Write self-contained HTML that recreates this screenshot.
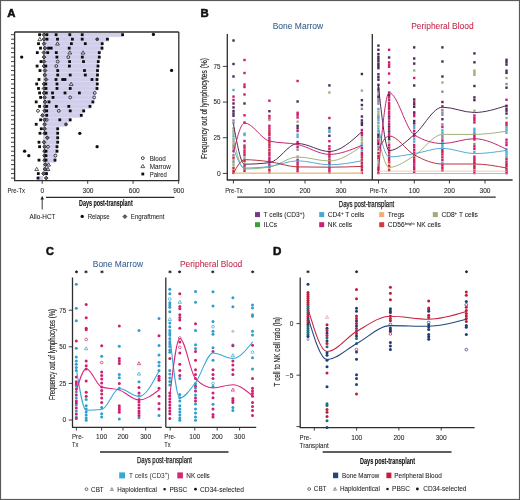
<!DOCTYPE html>
<html><head><meta charset="utf-8"><style>
html,body{margin:0;padding:0;background:#fff;}
#fig{position:relative;width:520px;height:500px;overflow:hidden;background:#fff;}
svg{position:absolute;left:0;top:0;will-change:transform;}
svg text{font-family:"Liberation Sans",sans-serif;}
</style></head><body><div id="fig">
<svg width="520" height="500" viewBox="0 0 520 500">
<rect x="0" y="0" width="520" height="500" fill="#fff"/>
<text x="7.2" y="17" font-size="11.2" font-weight="bold" fill="#111" text-anchor="start" textLength="8.2" lengthAdjust="spacingAndGlyphs" stroke="#111" stroke-width="0.55">A</text>
<rect x="43" y="32.46" width="80" height="4.48" fill="#d1ceec"/>
<rect x="43" y="36.6" width="80" height="0.6" fill="#e0def3"/>
<rect x="43" y="36.94" width="65.5" height="4.48" fill="#d1ceec"/>
<rect x="43" y="41.08" width="65.5" height="0.6" fill="#e0def3"/>
<rect x="43" y="41.42" width="60" height="4.48" fill="#d1ceec"/>
<rect x="43" y="45.56" width="60" height="0.6" fill="#e0def3"/>
<rect x="43" y="45.9" width="60" height="4.48" fill="#d1ceec"/>
<rect x="43" y="50.04" width="60" height="0.6" fill="#e0def3"/>
<rect x="43" y="50.38" width="57" height="4.48" fill="#d1ceec"/>
<rect x="43" y="54.52" width="57" height="0.6" fill="#e0def3"/>
<rect x="43" y="54.86" width="57" height="4.48" fill="#d1ceec"/>
<rect x="43" y="59" width="57" height="0.6" fill="#e0def3"/>
<rect x="43" y="59.34" width="56" height="4.48" fill="#d1ceec"/>
<rect x="43" y="63.48" width="56" height="0.6" fill="#e0def3"/>
<rect x="43" y="63.82" width="56" height="4.48" fill="#d1ceec"/>
<rect x="43" y="67.96" width="56" height="0.6" fill="#e0def3"/>
<rect x="43" y="68.3" width="55.5" height="4.48" fill="#d1ceec"/>
<rect x="43" y="72.44" width="55.5" height="0.6" fill="#e0def3"/>
<rect x="43" y="72.78" width="55.5" height="4.48" fill="#d1ceec"/>
<rect x="43" y="76.92" width="55.5" height="0.6" fill="#e0def3"/>
<rect x="43" y="77.26" width="55" height="4.48" fill="#d1ceec"/>
<rect x="43" y="81.4" width="55" height="0.6" fill="#e0def3"/>
<rect x="43" y="81.74" width="55" height="4.48" fill="#d1ceec"/>
<rect x="43" y="85.88" width="55" height="0.6" fill="#e0def3"/>
<rect x="43" y="86.22" width="55" height="4.48" fill="#d1ceec"/>
<rect x="43" y="90.36" width="55" height="0.6" fill="#e0def3"/>
<rect x="43" y="90.7" width="52.5" height="4.48" fill="#d1ceec"/>
<rect x="43" y="94.84" width="52.5" height="0.6" fill="#e0def3"/>
<rect x="43" y="95.18" width="52" height="4.48" fill="#d1ceec"/>
<rect x="43" y="99.32" width="52" height="0.6" fill="#e0def3"/>
<rect x="43" y="99.66" width="50.5" height="4.48" fill="#d1ceec"/>
<rect x="43" y="103.8" width="50.5" height="0.6" fill="#e0def3"/>
<rect x="43" y="104.14" width="48" height="4.48" fill="#d1ceec"/>
<rect x="43" y="108.28" width="48" height="0.6" fill="#e0def3"/>
<rect x="43" y="108.62" width="41.5" height="4.48" fill="#d1ceec"/>
<rect x="43" y="112.76" width="41.5" height="0.6" fill="#e0def3"/>
<rect x="43" y="113.1" width="38.5" height="4.48" fill="#d1ceec"/>
<rect x="43" y="117.24" width="38.5" height="0.6" fill="#e0def3"/>
<rect x="43" y="117.58" width="28" height="4.48" fill="#d1ceec"/>
<rect x="43" y="121.72" width="28" height="0.6" fill="#e0def3"/>
<rect x="43" y="122.06" width="24" height="4.48" fill="#d1ceec"/>
<rect x="43" y="126.2" width="24" height="0.6" fill="#e0def3"/>
<rect x="43" y="126.54" width="15.5" height="4.48" fill="#d1ceec"/>
<rect x="43" y="130.68" width="15.5" height="0.6" fill="#e0def3"/>
<rect x="43" y="131.02" width="15.5" height="4.48" fill="#d1ceec"/>
<rect x="43" y="135.16" width="15.5" height="0.6" fill="#e0def3"/>
<rect x="43" y="135.5" width="15.5" height="4.48" fill="#d1ceec"/>
<rect x="43" y="139.64" width="15.5" height="0.6" fill="#e0def3"/>
<rect x="43" y="139.98" width="15.5" height="4.48" fill="#d1ceec"/>
<rect x="43" y="144.12" width="15.5" height="0.6" fill="#e0def3"/>
<rect x="43" y="144.46" width="15" height="4.48" fill="#d1ceec"/>
<rect x="43" y="148.6" width="15" height="0.6" fill="#e0def3"/>
<rect x="43" y="148.94" width="14.5" height="4.48" fill="#d1ceec"/>
<rect x="43" y="153.08" width="14.5" height="0.6" fill="#e0def3"/>
<rect x="43" y="153.42" width="13.5" height="4.48" fill="#d1ceec"/>
<rect x="43" y="157.56" width="13.5" height="0.6" fill="#e0def3"/>
<rect x="43" y="157.9" width="13" height="4.48" fill="#d1ceec"/>
<rect x="43" y="162.04" width="13" height="0.6" fill="#e0def3"/>
<rect x="43" y="162.38" width="6.5" height="4.48" fill="#d1ceec"/>
<rect x="43" y="166.52" width="6.5" height="0.6" fill="#e0def3"/>
<rect x="43" y="166.86" width="6" height="4.48" fill="#d1ceec"/>
<rect x="43" y="171" width="6" height="0.6" fill="#e0def3"/>
<rect x="43" y="171.34" width="4.5" height="4.48" fill="#d1ceec"/>
<rect x="43" y="175.48" width="4.5" height="0.6" fill="#e0def3"/>
<rect x="43" y="175.82" width="0" height="4.48" fill="#d1ceec"/>
<rect x="43" y="179.96" width="0" height="0.6" fill="#e0def3"/>
<rect x="38" y="176.06" width="5" height="4" fill="#d1ceec"/>
<line x1="14.6" y1="32" x2="178.8" y2="32" stroke="#2e2e2e" stroke-width="1.3"/>
<line x1="178.8" y1="32" x2="178.8" y2="180.6" stroke="#2e2e2e" stroke-width="1.3"/>
<line x1="14.6" y1="32" x2="14.6" y2="180.6" stroke="#2e2e2e" stroke-width="1.3"/>
<line x1="14.1" y1="180.6" x2="179.3" y2="180.6" stroke="#2e2e2e" stroke-width="1.3"/>
<line x1="11" y1="34.7" x2="14.6" y2="34.7" stroke="#2e2e2e" stroke-width="0.9"/>
<line x1="11" y1="39.18" x2="14.6" y2="39.18" stroke="#2e2e2e" stroke-width="0.9"/>
<line x1="11" y1="43.66" x2="14.6" y2="43.66" stroke="#2e2e2e" stroke-width="0.9"/>
<line x1="11" y1="48.14" x2="14.6" y2="48.14" stroke="#2e2e2e" stroke-width="0.9"/>
<line x1="11" y1="52.62" x2="14.6" y2="52.62" stroke="#2e2e2e" stroke-width="0.9"/>
<line x1="11" y1="57.1" x2="14.6" y2="57.1" stroke="#2e2e2e" stroke-width="0.9"/>
<line x1="11" y1="61.58" x2="14.6" y2="61.58" stroke="#2e2e2e" stroke-width="0.9"/>
<line x1="11" y1="66.06" x2="14.6" y2="66.06" stroke="#2e2e2e" stroke-width="0.9"/>
<line x1="11" y1="70.54" x2="14.6" y2="70.54" stroke="#2e2e2e" stroke-width="0.9"/>
<line x1="11" y1="75.02" x2="14.6" y2="75.02" stroke="#2e2e2e" stroke-width="0.9"/>
<line x1="11" y1="79.5" x2="14.6" y2="79.5" stroke="#2e2e2e" stroke-width="0.9"/>
<line x1="11" y1="83.98" x2="14.6" y2="83.98" stroke="#2e2e2e" stroke-width="0.9"/>
<line x1="11" y1="88.46" x2="14.6" y2="88.46" stroke="#2e2e2e" stroke-width="0.9"/>
<line x1="11" y1="92.94" x2="14.6" y2="92.94" stroke="#2e2e2e" stroke-width="0.9"/>
<line x1="11" y1="97.42" x2="14.6" y2="97.42" stroke="#2e2e2e" stroke-width="0.9"/>
<line x1="11" y1="101.9" x2="14.6" y2="101.9" stroke="#2e2e2e" stroke-width="0.9"/>
<line x1="11" y1="106.38" x2="14.6" y2="106.38" stroke="#2e2e2e" stroke-width="0.9"/>
<line x1="11" y1="110.86" x2="14.6" y2="110.86" stroke="#2e2e2e" stroke-width="0.9"/>
<line x1="11" y1="115.34" x2="14.6" y2="115.34" stroke="#2e2e2e" stroke-width="0.9"/>
<line x1="11" y1="119.82" x2="14.6" y2="119.82" stroke="#2e2e2e" stroke-width="0.9"/>
<line x1="11" y1="124.3" x2="14.6" y2="124.3" stroke="#2e2e2e" stroke-width="0.9"/>
<line x1="11" y1="128.78" x2="14.6" y2="128.78" stroke="#2e2e2e" stroke-width="0.9"/>
<line x1="11" y1="133.26" x2="14.6" y2="133.26" stroke="#2e2e2e" stroke-width="0.9"/>
<line x1="11" y1="137.74" x2="14.6" y2="137.74" stroke="#2e2e2e" stroke-width="0.9"/>
<line x1="11" y1="142.22" x2="14.6" y2="142.22" stroke="#2e2e2e" stroke-width="0.9"/>
<line x1="11" y1="146.7" x2="14.6" y2="146.7" stroke="#2e2e2e" stroke-width="0.9"/>
<line x1="11" y1="151.18" x2="14.6" y2="151.18" stroke="#2e2e2e" stroke-width="0.9"/>
<line x1="11" y1="155.66" x2="14.6" y2="155.66" stroke="#2e2e2e" stroke-width="0.9"/>
<line x1="11" y1="160.14" x2="14.6" y2="160.14" stroke="#2e2e2e" stroke-width="0.9"/>
<line x1="11" y1="164.62" x2="14.6" y2="164.62" stroke="#2e2e2e" stroke-width="0.9"/>
<line x1="11" y1="169.1" x2="14.6" y2="169.1" stroke="#2e2e2e" stroke-width="0.9"/>
<line x1="11" y1="173.58" x2="14.6" y2="173.58" stroke="#2e2e2e" stroke-width="0.9"/>
<line x1="11" y1="178.06" x2="14.6" y2="178.06" stroke="#2e2e2e" stroke-width="0.9"/>
<line x1="42.2" y1="180.6" x2="42.2" y2="183.8" stroke="#2e2e2e" stroke-width="0.9"/>
<line x1="87.7" y1="180.6" x2="87.7" y2="183.8" stroke="#2e2e2e" stroke-width="0.9"/>
<line x1="133.1" y1="180.6" x2="133.1" y2="183.8" stroke="#2e2e2e" stroke-width="0.9"/>
<line x1="178.6" y1="180.6" x2="178.6" y2="183.8" stroke="#2e2e2e" stroke-width="0.9"/>
<rect x="38.2" y="33.3" width="2.8" height="2.8" fill="#0e0e0e"/>
<polygon points="43.9,32.8 45.8,34.7 43.9,36.6 42,34.7" fill="#666" stroke="#1a1a1a" stroke-width="0.8"/>
<rect x="45.5" y="33.3" width="2.8" height="2.8" fill="#0e0e0e"/>
<rect x="54.7" y="33.3" width="2.8" height="2.8" fill="#0e0e0e"/>
<rect x="68.4" y="33.3" width="2.8" height="2.8" fill="#0e0e0e"/>
<rect x="80.8" y="33.3" width="2.8" height="2.8" fill="#0e0e0e"/>
<rect x="121.2" y="33.3" width="2.8" height="2.8" fill="#0e0e0e"/>
<polygon points="39.8,37.38 41.75,40.63 37.85,40.63" fill="none" stroke="#1a1a1a" stroke-width="0.7"/>
<polygon points="44,37.28 45.9,39.18 44,41.08 42.1,39.18" fill="#666" stroke="#1a1a1a" stroke-width="0.8"/>
<rect x="45.6" y="37.78" width="2.8" height="2.8" fill="#0e0e0e"/>
<rect x="56.1" y="37.78" width="2.8" height="2.8" fill="#0e0e0e"/>
<rect x="71" y="37.78" width="2.8" height="2.8" fill="#0e0e0e"/>
<rect x="80.8" y="37.78" width="2.8" height="2.8" fill="#0e0e0e"/>
<circle cx="97.2" cy="39.18" r="1.5" fill="#444" stroke="#222" stroke-width="0.5"/>
<rect x="106" y="37.78" width="2.8" height="2.8" fill="#0e0e0e"/>
<rect x="37.1" y="42.26" width="2.8" height="2.8" fill="#0e0e0e"/>
<polygon points="44,41.76 45.9,43.66 44,45.56 42.1,43.66" fill="#666" stroke="#1a1a1a" stroke-width="0.8"/>
<polygon points="57.5,41.86 59.45,45.11 55.55,45.11" fill="none" stroke="#1a1a1a" stroke-width="0.7"/>
<rect x="70" y="42.26" width="2.8" height="2.8" fill="#0e0e0e"/>
<rect x="83.9" y="42.26" width="2.8" height="2.8" fill="#0e0e0e"/>
<rect x="100.8" y="42.26" width="2.8" height="2.8" fill="#0e0e0e"/>
<rect x="39.1" y="46.74" width="2.8" height="2.8" fill="#0e0e0e"/>
<polygon points="45,46.24 46.9,48.14 45,50.04 43.1,48.14" fill="#666" stroke="#1a1a1a" stroke-width="0.8"/>
<rect x="47.2" y="46.74" width="2.8" height="2.8" fill="#0e0e0e"/>
<rect x="49.8" y="46.74" width="2.8" height="2.8" fill="#0e0e0e"/>
<rect x="67.8" y="46.74" width="2.8" height="2.8" fill="#0e0e0e"/>
<rect x="100.6" y="46.74" width="2.8" height="2.8" fill="#0e0e0e"/>
<rect x="35.9" y="51.22" width="2.8" height="2.8" fill="#0e0e0e"/>
<polygon points="43.9,50.72 45.8,52.62 43.9,54.52 42,52.62" fill="#666" stroke="#1a1a1a" stroke-width="0.8"/>
<rect x="46.3" y="51.22" width="2.8" height="2.8" fill="#0e0e0e"/>
<rect x="54.9" y="51.22" width="2.8" height="2.8" fill="#0e0e0e"/>
<polygon points="69.8,50.82 71.75,54.07 67.85,54.07" fill="none" stroke="#1a1a1a" stroke-width="0.7"/>
<polygon points="83,50.82 84.95,54.07 81.05,54.07" fill="none" stroke="#1a1a1a" stroke-width="0.7"/>
<rect x="97.9" y="51.22" width="2.8" height="2.8" fill="#0e0e0e"/>
<circle cx="21.7" cy="57.1" r="1.65" fill="#0e0e0e" stroke="none" stroke-width="0.6"/>
<polygon points="44,55.2 45.9,57.1 44,59 42.1,57.1" fill="#666" stroke="#1a1a1a" stroke-width="0.8"/>
<rect x="55.5" y="55.7" width="2.8" height="2.8" fill="#0e0e0e"/>
<circle cx="68.3" cy="57.1" r="1.45" fill="none" stroke="#1a1a1a" stroke-width="0.8"/>
<rect x="80.9" y="55.7" width="2.8" height="2.8" fill="#0e0e0e"/>
<rect x="97.9" y="55.7" width="2.8" height="2.8" fill="#0e0e0e"/>
<rect x="39.6" y="60.18" width="2.8" height="2.8" fill="#0e0e0e"/>
<polygon points="44,59.68 45.9,61.58 44,63.48 42.1,61.58" fill="#666" stroke="#1a1a1a" stroke-width="0.8"/>
<circle cx="57.7" cy="61.58" r="1.45" fill="none" stroke="#1a1a1a" stroke-width="0.8"/>
<rect x="68.2" y="60.18" width="2.8" height="2.8" fill="#0e0e0e"/>
<rect x="82.1" y="60.18" width="2.8" height="2.8" fill="#0e0e0e"/>
<rect x="96.9" y="60.18" width="2.8" height="2.8" fill="#0e0e0e"/>
<rect x="35.7" y="64.66" width="2.8" height="2.8" fill="#0e0e0e"/>
<polygon points="44,64.16 45.9,66.06 44,67.96 42.1,66.06" fill="#666" stroke="#1a1a1a" stroke-width="0.8"/>
<rect x="44.4" y="64.66" width="2.8" height="2.8" fill="#0e0e0e"/>
<circle cx="56.3" cy="66.06" r="1.45" fill="none" stroke="#1a1a1a" stroke-width="0.8"/>
<rect x="68" y="64.66" width="2.8" height="2.8" fill="#0e0e0e"/>
<rect x="96.6" y="64.66" width="2.8" height="2.8" fill="#0e0e0e"/>
<rect x="38.6" y="69.14" width="2.8" height="2.8" fill="#0e0e0e"/>
<polygon points="45,68.64 46.9,70.54 45,72.44 43.1,70.54" fill="#666" stroke="#1a1a1a" stroke-width="0.8"/>
<rect x="56.3" y="69.14" width="2.8" height="2.8" fill="#0e0e0e"/>
<rect x="83.1" y="69.14" width="2.8" height="2.8" fill="#0e0e0e"/>
<rect x="96.1" y="69.14" width="2.8" height="2.8" fill="#0e0e0e"/>
<polygon points="44.8,73.12 46.7,75.02 44.8,76.92 42.9,75.02" fill="#666" stroke="#1a1a1a" stroke-width="0.8"/>
<rect x="56.3" y="73.62" width="2.8" height="2.8" fill="#0e0e0e"/>
<rect x="68.8" y="73.62" width="2.8" height="2.8" fill="#0e0e0e"/>
<rect x="83.9" y="73.62" width="2.8" height="2.8" fill="#0e0e0e"/>
<rect x="96.1" y="73.62" width="2.8" height="2.8" fill="#0e0e0e"/>
<rect x="37.6" y="78.1" width="2.8" height="2.8" fill="#0e0e0e"/>
<polygon points="46,77.6 47.9,79.5 46,81.4 44.1,79.5" fill="#666" stroke="#1a1a1a" stroke-width="0.8"/>
<rect x="54.6" y="78.1" width="2.8" height="2.8" fill="#0e0e0e"/>
<rect x="61.3" y="78.1" width="2.8" height="2.8" fill="#0e0e0e"/>
<rect x="63.6" y="78.1" width="2.8" height="2.8" fill="#0e0e0e"/>
<rect x="90.6" y="78.1" width="2.8" height="2.8" fill="#0e0e0e"/>
<rect x="95.6" y="78.1" width="2.8" height="2.8" fill="#0e0e0e"/>
<rect x="35.3" y="82.58" width="2.8" height="2.8" fill="#0e0e0e"/>
<polygon points="44,82.08 45.9,83.98 44,85.88 42.1,83.98" fill="#666" stroke="#1a1a1a" stroke-width="0.8"/>
<rect x="44.4" y="82.58" width="2.8" height="2.8" fill="#0e0e0e"/>
<rect x="55.6" y="82.58" width="2.8" height="2.8" fill="#0e0e0e"/>
<polygon points="71.2,82.18 73.15,85.43 69.25,85.43" fill="none" stroke="#1a1a1a" stroke-width="0.7"/>
<rect x="95.9" y="82.58" width="2.8" height="2.8" fill="#0e0e0e"/>
<rect x="37.1" y="87.06" width="2.8" height="2.8" fill="#0e0e0e"/>
<polygon points="44,86.56 45.9,88.46 44,90.36 42.1,88.46" fill="#666" stroke="#1a1a1a" stroke-width="0.8"/>
<rect x="44.6" y="87.06" width="2.8" height="2.8" fill="#0e0e0e"/>
<rect x="55.6" y="87.06" width="2.8" height="2.8" fill="#0e0e0e"/>
<rect x="68.8" y="87.06" width="2.8" height="2.8" fill="#0e0e0e"/>
<rect x="95.6" y="87.06" width="2.8" height="2.8" fill="#0e0e0e"/>
<rect x="38.2" y="91.54" width="2.8" height="2.8" fill="#0e0e0e"/>
<polygon points="44,91.04 45.9,92.94 44,94.84 42.1,92.94" fill="#666" stroke="#1a1a1a" stroke-width="0.8"/>
<rect x="44.9" y="91.54" width="2.8" height="2.8" fill="#0e0e0e"/>
<rect x="51.1" y="91.54" width="2.8" height="2.8" fill="#0e0e0e"/>
<rect x="63.6" y="91.54" width="2.8" height="2.8" fill="#0e0e0e"/>
<rect x="78" y="91.54" width="2.8" height="2.8" fill="#0e0e0e"/>
<circle cx="94.8" cy="92.94" r="1.45" fill="none" stroke="#1a1a1a" stroke-width="0.8"/>
<rect x="39.2" y="96.02" width="2.8" height="2.8" fill="#0e0e0e"/>
<polygon points="44.6,95.52 46.5,97.42 44.6,99.32 42.7,97.42" fill="#666" stroke="#1a1a1a" stroke-width="0.8"/>
<rect x="51.6" y="96.02" width="2.8" height="2.8" fill="#0e0e0e"/>
<circle cx="70.2" cy="97.42" r="1.45" fill="none" stroke="#1a1a1a" stroke-width="0.8"/>
<circle cx="94.2" cy="97.42" r="1.45" fill="none" stroke="#1a1a1a" stroke-width="0.8"/>
<rect x="34.8" y="100.5" width="2.8" height="2.8" fill="#0e0e0e"/>
<polygon points="45,100 46.9,101.9 45,103.8 43.1,101.9" fill="#666" stroke="#1a1a1a" stroke-width="0.8"/>
<rect x="47.6" y="100.5" width="2.8" height="2.8" fill="#0e0e0e"/>
<rect x="91.5" y="100.5" width="2.8" height="2.8" fill="#0e0e0e"/>
<rect x="38.2" y="104.98" width="2.8" height="2.8" fill="#0e0e0e"/>
<polygon points="45,104.48 46.9,106.38 45,108.28 43.1,106.38" fill="#666" stroke="#1a1a1a" stroke-width="0.8"/>
<rect x="45.3" y="104.98" width="2.8" height="2.8" fill="#0e0e0e"/>
<rect x="54.9" y="104.98" width="2.8" height="2.8" fill="#0e0e0e"/>
<rect x="67.4" y="104.98" width="2.8" height="2.8" fill="#0e0e0e"/>
<rect x="88.6" y="104.98" width="2.8" height="2.8" fill="#0e0e0e"/>
<circle cx="38" cy="110.86" r="1.45" fill="none" stroke="#1a1a1a" stroke-width="0.8"/>
<polygon points="44.6,108.96 46.5,110.86 44.6,112.76 42.7,110.86" fill="#666" stroke="#1a1a1a" stroke-width="0.8"/>
<rect x="45.3" y="109.46" width="2.8" height="2.8" fill="#0e0e0e"/>
<circle cx="58.8" cy="110.86" r="1.45" fill="none" stroke="#1a1a1a" stroke-width="0.8"/>
<rect x="68.8" y="109.46" width="2.8" height="2.8" fill="#0e0e0e"/>
<rect x="82.3" y="109.46" width="2.8" height="2.8" fill="#0e0e0e"/>
<polygon points="42.5,113.44 44.4,115.34 42.5,117.24 40.6,115.34" fill="#666" stroke="#1a1a1a" stroke-width="0.8"/>
<rect x="45.3" y="113.94" width="2.8" height="2.8" fill="#0e0e0e"/>
<rect x="79.9" y="113.94" width="2.8" height="2.8" fill="#0e0e0e"/>
<rect x="39.2" y="118.42" width="2.8" height="2.8" fill="#0e0e0e"/>
<polygon points="44.6,117.92 46.5,119.82 44.6,121.72 42.7,119.82" fill="#666" stroke="#1a1a1a" stroke-width="0.8"/>
<circle cx="46.7" cy="119.82" r="1.45" fill="none" stroke="#1a1a1a" stroke-width="0.8"/>
<rect x="58.4" y="118.42" width="2.8" height="2.8" fill="#0e0e0e"/>
<rect x="68.8" y="118.42" width="2.8" height="2.8" fill="#0e0e0e"/>
<rect x="34.8" y="122.9" width="2.8" height="2.8" fill="#0e0e0e"/>
<polygon points="44.6,122.4 46.5,124.3 44.6,126.2 42.7,124.3" fill="#666" stroke="#1a1a1a" stroke-width="0.8"/>
<circle cx="66" cy="124.3" r="1.5" fill="#444" stroke="#222" stroke-width="0.5"/>
<rect x="39.9" y="127.38" width="2.8" height="2.8" fill="#0e0e0e"/>
<polygon points="44.6,126.88 46.5,128.78 44.6,130.68 42.7,128.78" fill="#666" stroke="#1a1a1a" stroke-width="0.8"/>
<rect x="56.3" y="127.38" width="2.8" height="2.8" fill="#0e0e0e"/>
<rect x="38.6" y="131.86" width="2.8" height="2.8" fill="#0e0e0e"/>
<polygon points="44.6,131.36 46.5,133.26 44.6,135.16 42.7,133.26" fill="#666" stroke="#1a1a1a" stroke-width="0.8"/>
<rect x="44.4" y="131.86" width="2.8" height="2.8" fill="#0e0e0e"/>
<rect x="56.3" y="131.86" width="2.8" height="2.8" fill="#0e0e0e"/>
<polygon points="47.3,135.84 49.2,137.74 47.3,139.64 45.4,137.74" fill="#666" stroke="#1a1a1a" stroke-width="0.8"/>
<rect x="56.3" y="136.34" width="2.8" height="2.8" fill="#0e0e0e"/>
<rect x="37.6" y="140.82" width="2.8" height="2.8" fill="#0e0e0e"/>
<polygon points="44,140.32 45.9,142.22 44,144.12 42.1,142.22" fill="#666" stroke="#1a1a1a" stroke-width="0.8"/>
<rect x="56.3" y="140.82" width="2.8" height="2.8" fill="#0e0e0e"/>
<rect x="38.2" y="145.3" width="2.8" height="2.8" fill="#0e0e0e"/>
<polygon points="44.6,144.8 46.5,146.7 44.6,148.6 42.7,146.7" fill="#666" stroke="#1a1a1a" stroke-width="0.8"/>
<circle cx="48" cy="146.7" r="1.45" fill="none" stroke="#1a1a1a" stroke-width="0.8"/>
<rect x="55.6" y="145.3" width="2.8" height="2.8" fill="#0e0e0e"/>
<circle cx="24.6" cy="151.18" r="1.65" fill="#0e0e0e" stroke="none" stroke-width="0.6"/>
<polygon points="44.6,149.28 46.5,151.18 44.6,153.08 42.7,151.18" fill="#666" stroke="#1a1a1a" stroke-width="0.8"/>
<rect x="44.6" y="149.78" width="2.8" height="2.8" fill="#0e0e0e"/>
<rect x="55.6" y="149.78" width="2.8" height="2.8" fill="#0e0e0e"/>
<circle cx="28.8" cy="155.66" r="1.65" fill="#0e0e0e" stroke="none" stroke-width="0.6"/>
<polygon points="44.6,153.76 46.5,155.66 44.6,157.56 42.7,155.66" fill="#666" stroke="#1a1a1a" stroke-width="0.8"/>
<rect x="44.6" y="154.26" width="2.8" height="2.8" fill="#0e0e0e"/>
<circle cx="55.4" cy="155.66" r="1.45" fill="none" stroke="#1a1a1a" stroke-width="0.8"/>
<rect x="37.6" y="158.74" width="2.8" height="2.8" fill="#0e0e0e"/>
<polygon points="44.6,158.24 46.5,160.14 44.6,162.04 42.7,160.14" fill="#666" stroke="#1a1a1a" stroke-width="0.8"/>
<rect x="44.6" y="158.74" width="2.8" height="2.8" fill="#0e0e0e"/>
<rect x="53.6" y="158.74" width="2.8" height="2.8" fill="#0e0e0e"/>
<polygon points="45.4,162.72 47.3,164.62 45.4,166.52 43.5,164.62" fill="#666" stroke="#1a1a1a" stroke-width="0.8"/>
<polygon points="48.6,162.82 50.55,166.07 46.65,166.07" fill="none" stroke="#1a1a1a" stroke-width="0.7"/>
<polygon points="36.7,167.3 38.65,170.55 34.75,170.55" fill="none" stroke="#1a1a1a" stroke-width="0.7"/>
<polygon points="45,167.2 46.9,169.1 45,171 43.1,169.1" fill="#666" stroke="#1a1a1a" stroke-width="0.8"/>
<polygon points="48,167.3 49.95,170.55 46.05,170.55" fill="none" stroke="#1a1a1a" stroke-width="0.7"/>
<rect x="36.9" y="172.18" width="2.8" height="2.8" fill="#0e0e0e"/>
<polygon points="43.5,171.68 45.4,173.58 43.5,175.48 41.6,173.58" fill="#666" stroke="#1a1a1a" stroke-width="0.8"/>
<rect x="45.1" y="172.18" width="2.8" height="2.8" fill="#0e0e0e"/>
<rect x="36.6" y="176.66" width="2.8" height="2.8" fill="#0e0e0e"/>
<polygon points="46.2,176.16 48.1,178.06 46.2,179.96 44.3,178.06" fill="#666" stroke="#1a1a1a" stroke-width="0.8"/>
<circle cx="153.4" cy="34.4" r="1.65" fill="#0e0e0e" stroke="none" stroke-width="0.6"/>
<circle cx="171.6" cy="70.4" r="1.65" fill="#0e0e0e" stroke="none" stroke-width="0.6"/>
<circle cx="79.8" cy="133.3" r="1.65" fill="#0e0e0e" stroke="none" stroke-width="0.6"/>
<circle cx="97.1" cy="146.7" r="1.65" fill="#0e0e0e" stroke="none" stroke-width="0.6"/>
<circle cx="142.8" cy="158.1" r="1.45" fill="none" stroke="#1a1a1a" stroke-width="0.8"/>
<text x="149.7" y="160.6" font-size="6.6" font-weight="normal" fill="#1e1e1e" text-anchor="start" textLength="16" lengthAdjust="spacingAndGlyphs" stroke="#1e1e1e" stroke-width="0.06">Blood</text>
<polygon points="142.8,164.4 144.75,167.65 140.85,167.65" fill="none" stroke="#1a1a1a" stroke-width="0.7"/>
<text x="149.7" y="168.7" font-size="6.6" font-weight="normal" fill="#1e1e1e" text-anchor="start" textLength="21" lengthAdjust="spacingAndGlyphs" stroke="#1e1e1e" stroke-width="0.06">Marrow</text>
<rect x="141.4" y="172.6" width="2.8" height="2.8" fill="#0e0e0e"/>
<text x="149.7" y="176.5" font-size="6.6" font-weight="normal" fill="#1e1e1e" text-anchor="start" textLength="17.2" lengthAdjust="spacingAndGlyphs" stroke="#1e1e1e" stroke-width="0.06">Paired</text>
<text x="7.4" y="193.2" font-size="6.6" font-weight="normal" fill="#1e1e1e" text-anchor="start" textLength="17.6" lengthAdjust="spacingAndGlyphs" stroke="#1e1e1e" stroke-width="0.06">Pre-Tx</text>
<text x="42.3" y="193.2" font-size="6.6" font-weight="normal" fill="#1e1e1e" text-anchor="middle" stroke="#1e1e1e" stroke-width="0.06">0</text>
<text x="88" y="193.2" font-size="6.6" font-weight="normal" fill="#1e1e1e" text-anchor="middle" textLength="11" lengthAdjust="spacingAndGlyphs" stroke="#1e1e1e" stroke-width="0.06">300</text>
<text x="134.3" y="193.2" font-size="6.6" font-weight="normal" fill="#1e1e1e" text-anchor="middle" textLength="11" lengthAdjust="spacingAndGlyphs" stroke="#1e1e1e" stroke-width="0.06">600</text>
<text x="178.7" y="193.2" font-size="6.6" font-weight="normal" fill="#1e1e1e" text-anchor="middle" textLength="11" lengthAdjust="spacingAndGlyphs" stroke="#1e1e1e" stroke-width="0.06">900</text>
<line x1="42.2" y1="198.5" x2="42.2" y2="209.5" stroke="#222" stroke-width="0.9"/>
<polygon points="42.2,195.8 44,199.6 40.4,199.6" fill="#222" stroke="none" stroke-width="0.6"/>
<line x1="46" y1="197.4" x2="174.4" y2="197.4" stroke="#2a2a2a" stroke-width="1.3"/>
<text x="79" y="206.3" font-size="9.3" font-weight="bold" fill="#111" text-anchor="start" textLength="53.7" lengthAdjust="spacingAndGlyphs" stroke="#111" stroke-width="0.12">Days post-transplant</text>
<text x="29.6" y="219" font-size="6.6" font-weight="normal" fill="#1e1e1e" text-anchor="start" textLength="25.8" lengthAdjust="spacingAndGlyphs" stroke="#1e1e1e" stroke-width="0.06">Allo-HCT</text>
<circle cx="82.2" cy="216.4" r="1.65" fill="#0e0e0e" stroke="none" stroke-width="0.6"/>
<text x="87.7" y="218.7" font-size="6.6" font-weight="normal" fill="#1e1e1e" text-anchor="start" textLength="22" lengthAdjust="spacingAndGlyphs" stroke="#1e1e1e" stroke-width="0.06">Relapse</text>
<polygon points="124.9,214.7 126.8,216.6 124.9,218.5 123,216.6" fill="#666" stroke="#1a1a1a" stroke-width="0.8"/>
<text x="130.8" y="218.9" font-size="6.6" font-weight="normal" fill="#1e1e1e" text-anchor="start" textLength="33.6" lengthAdjust="spacingAndGlyphs" stroke="#1e1e1e" stroke-width="0.06">Engraftment</text>
<text x="200.4" y="17" font-size="11.2" font-weight="bold" fill="#111" text-anchor="start" textLength="8.2" lengthAdjust="spacingAndGlyphs" stroke="#111" stroke-width="0.55">B</text>
<text x="272.7" y="29.2" font-size="8.8" font-weight="normal" fill="#35608f" text-anchor="start" textLength="50.5" lengthAdjust="spacingAndGlyphs" stroke="#35608f" stroke-width="0.06">Bone Marrow</text>
<text x="411.2" y="29.2" font-size="8.8" font-weight="normal" fill="#c2264a" text-anchor="start" textLength="62.4" lengthAdjust="spacingAndGlyphs" stroke="#c2264a" stroke-width="0.06">Peripheral Blood</text>
<line x1="227.3" y1="34" x2="227.3" y2="180" stroke="#2e2e2e" stroke-width="1.3"/>
<line x1="226.8" y1="180" x2="372.3" y2="180" stroke="#2e2e2e" stroke-width="1.3"/>
<line x1="372.3" y1="34" x2="372.3" y2="180" stroke="#2e2e2e" stroke-width="1.3"/>
<line x1="372.3" y1="180" x2="512.6" y2="180" stroke="#2e2e2e" stroke-width="1.3"/>
<line x1="222.8" y1="173.4" x2="227.3" y2="173.4" stroke="#2e2e2e" stroke-width="0.9"/>
<text x="220.6" y="175.7" font-size="6.6" font-weight="normal" fill="#1e1e1e" text-anchor="end" textLength="3.7" lengthAdjust="spacingAndGlyphs" stroke="#1e1e1e" stroke-width="0.06">0</text>
<line x1="222.8" y1="137.73" x2="227.3" y2="137.73" stroke="#2e2e2e" stroke-width="0.9"/>
<text x="220.6" y="140.03" font-size="6.6" font-weight="normal" fill="#1e1e1e" text-anchor="end" textLength="7" lengthAdjust="spacingAndGlyphs" stroke="#1e1e1e" stroke-width="0.06">25</text>
<line x1="222.8" y1="102.06" x2="227.3" y2="102.06" stroke="#2e2e2e" stroke-width="0.9"/>
<text x="220.6" y="104.36" font-size="6.6" font-weight="normal" fill="#1e1e1e" text-anchor="end" textLength="7" lengthAdjust="spacingAndGlyphs" stroke="#1e1e1e" stroke-width="0.06">50</text>
<line x1="222.8" y1="66.39" x2="227.3" y2="66.39" stroke="#2e2e2e" stroke-width="0.9"/>
<text x="220.6" y="68.69" font-size="6.6" font-weight="normal" fill="#1e1e1e" text-anchor="end" textLength="7" lengthAdjust="spacingAndGlyphs" stroke="#1e1e1e" stroke-width="0.06">75</text>
<text transform="translate(207.4,108.5) rotate(-90)" font-size="8.2" fill="#222" stroke="#222" stroke-width="0.15" text-anchor="middle" textLength="101" lengthAdjust="spacingAndGlyphs">Frequency out of lymphocytes (%)</text>
<line x1="233.4" y1="180" x2="233.4" y2="183.5" stroke="#2e2e2e" stroke-width="0.9"/>
<line x1="269.4" y1="180" x2="269.4" y2="183.5" stroke="#2e2e2e" stroke-width="0.9"/>
<line x1="305" y1="180" x2="305" y2="183.5" stroke="#2e2e2e" stroke-width="0.9"/>
<line x1="341" y1="180" x2="341" y2="183.5" stroke="#2e2e2e" stroke-width="0.9"/>
<line x1="378.5" y1="180" x2="378.5" y2="183.5" stroke="#2e2e2e" stroke-width="0.9"/>
<line x1="414.3" y1="180" x2="414.3" y2="183.5" stroke="#2e2e2e" stroke-width="0.9"/>
<line x1="449.4" y1="180" x2="449.4" y2="183.5" stroke="#2e2e2e" stroke-width="0.9"/>
<line x1="485" y1="180" x2="485" y2="183.5" stroke="#2e2e2e" stroke-width="0.9"/>
<text x="234" y="193" font-size="6.6" font-weight="normal" fill="#1e1e1e" text-anchor="middle" textLength="17.6" lengthAdjust="spacingAndGlyphs" stroke="#1e1e1e" stroke-width="0.06">Pre-Tx</text>
<text x="269.4" y="193" font-size="6.6" font-weight="normal" fill="#1e1e1e" text-anchor="middle" textLength="11" lengthAdjust="spacingAndGlyphs" stroke="#1e1e1e" stroke-width="0.06">100</text>
<text x="305" y="193" font-size="6.6" font-weight="normal" fill="#1e1e1e" text-anchor="middle" textLength="11" lengthAdjust="spacingAndGlyphs" stroke="#1e1e1e" stroke-width="0.06">200</text>
<text x="341" y="193" font-size="6.6" font-weight="normal" fill="#1e1e1e" text-anchor="middle" textLength="11" lengthAdjust="spacingAndGlyphs" stroke="#1e1e1e" stroke-width="0.06">300</text>
<text x="378.5" y="193" font-size="6.6" font-weight="normal" fill="#1e1e1e" text-anchor="middle" textLength="17.6" lengthAdjust="spacingAndGlyphs" stroke="#1e1e1e" stroke-width="0.06">Pre-Tx</text>
<text x="414.3" y="193" font-size="6.6" font-weight="normal" fill="#1e1e1e" text-anchor="middle" textLength="11" lengthAdjust="spacingAndGlyphs" stroke="#1e1e1e" stroke-width="0.06">100</text>
<text x="449.4" y="193" font-size="6.6" font-weight="normal" fill="#1e1e1e" text-anchor="middle" textLength="11" lengthAdjust="spacingAndGlyphs" stroke="#1e1e1e" stroke-width="0.06">200</text>
<text x="485" y="193" font-size="6.6" font-weight="normal" fill="#1e1e1e" text-anchor="middle" textLength="11" lengthAdjust="spacingAndGlyphs" stroke="#1e1e1e" stroke-width="0.06">300</text>
<line x1="237.2" y1="197.2" x2="495.7" y2="197.2" stroke="#2a2a2a" stroke-width="1.3"/>
<text x="338.8" y="207" font-size="9.1" font-weight="normal" fill="#1a1a1a" text-anchor="start" textLength="55.4" lengthAdjust="spacingAndGlyphs" stroke="#1a1a1a" stroke-width="0.25">Days post-transplant</text>
<rect x="255" y="212.1" width="5" height="5" fill="#73398a"/>
<text x="263.6" y="217" font-size="6.6" fill="#222" stroke="#222" stroke-width="0.06">T cells (CD3<tspan font-size="4.5" dy="-2.5">+</tspan><tspan dy="2.5">)</tspan></text>
<rect x="319.2" y="212.1" width="5" height="5" fill="#4aa6d4"/>
<text x="327.8" y="217" font-size="6.6" fill="#222" stroke="#222" stroke-width="0.06">CD4<tspan font-size="4.5" dy="-2.5">+</tspan><tspan dy="2.5"> T cells</tspan></text>
<rect x="379.2" y="212.1" width="5" height="5" fill="#f0ae74"/>
<text x="387.8" y="217" font-size="6.6" fill="#222" stroke="#222" stroke-width="0.06">Tregs</text>
<rect x="432.8" y="212.1" width="5" height="5" fill="#9cad7a"/>
<text x="441.4" y="217" font-size="6.6" fill="#222" stroke="#222" stroke-width="0.06">CD8<tspan font-size="4.5" dy="-2.5">+</tspan><tspan dy="2.5"> T cells</tspan></text>
<rect x="255" y="222.2" width="5" height="5" fill="#3aa03c"/>
<text x="263.6" y="227.1" font-size="6.6" fill="#222" stroke="#222" stroke-width="0.06">ILCs</text>
<rect x="319.2" y="222.2" width="5" height="5" fill="#d41b7a"/>
<text x="327.8" y="227.1" font-size="6.6" fill="#222" stroke="#222" stroke-width="0.06">NK cells</text>
<rect x="379.2" y="222.2" width="5" height="5" fill="#d23a3e"/>
<text x="387.8" y="227.1" font-size="6.6" fill="#222" stroke="#222" stroke-width="0.06">CD56<tspan font-size="4" dy="-2.5">bright</tspan><tspan dy="2.5"> NK cells</tspan></text>
<rect x="232.3" y="39.3" width="2.4" height="2.4" fill="#4e2a5c"/>
<rect x="232.3" y="62.8" width="2.4" height="2.4" fill="#4e2a5c"/>
<rect x="232.3" y="75.3" width="2.4" height="2.4" fill="#4e2a5c"/>
<rect x="232.3" y="88.8" width="2.4" height="2.4" fill="#58acd8"/>
<rect x="232.3" y="95.4" width="2.4" height="2.4" fill="#cc1d70"/>
<rect x="232.3" y="98.8" width="2.4" height="2.4" fill="#cc1d70"/>
<rect x="232.3" y="102.3" width="2.4" height="2.4" fill="#4e2a5c"/>
<rect x="232.3" y="106.2" width="2.4" height="2.4" fill="#4e2a5c"/>
<rect x="232.3" y="109.8" width="2.4" height="2.4" fill="#4e2a5c"/>
<rect x="232.3" y="112.31" width="2.4" height="2.4" fill="#4e2a5c"/>
<rect x="232.3" y="114.54" width="2.4" height="2.4" fill="#4e2a5c"/>
<rect x="232.3" y="119.3" width="2.4" height="2.4" fill="#8e8a9a"/>
<rect x="232.3" y="121.89" width="2.4" height="2.4" fill="#8e8a9a"/>
<rect x="232.3" y="127.3" width="2.4" height="2.4" fill="#9fb080"/>
<rect x="232.3" y="130.1" width="2.4" height="2.4" fill="#9fb080"/>
<rect x="232.3" y="132.49" width="2.4" height="2.4" fill="#9fb080"/>
<rect x="232.3" y="135.12" width="2.4" height="2.4" fill="#58acd8"/>
<rect x="232.3" y="137.77" width="2.4" height="2.4" fill="#9fb080"/>
<rect x="232.3" y="140.3" width="2.4" height="2.4" fill="#9fb080"/>
<rect x="232.3" y="143.11" width="2.4" height="2.4" fill="#9fb080"/>
<rect x="232.3" y="145.13" width="2.4" height="2.4" fill="#8e8a9a"/>
<rect x="232.3" y="147.14" width="2.4" height="2.4" fill="#9fb080"/>
<rect x="232.3" y="149.8" width="2.4" height="2.4" fill="#cc1d70"/>
<rect x="232.3" y="153.8" width="2.4" height="2.4" fill="#8e8a9a"/>
<rect x="232.3" y="156.49" width="2.4" height="2.4" fill="#c42a3a"/>
<rect x="232.3" y="158.98" width="2.4" height="2.4" fill="#9fb080"/>
<rect x="232.3" y="161.19" width="2.4" height="2.4" fill="#8e8a9a"/>
<rect x="232.3" y="163.88" width="2.4" height="2.4" fill="#9fb080"/>
<rect x="232.3" y="166.8" width="2.4" height="2.4" fill="#c42a3a"/>
<rect x="232.3" y="169.55" width="2.4" height="2.4" fill="#c42a3a"/>
<rect x="232.3" y="171.72" width="2.4" height="2.4" fill="#c42a3a"/>
<rect x="243.3" y="58.8" width="2.4" height="2.4" fill="#cc1d70"/>
<rect x="243.3" y="71.8" width="2.4" height="2.4" fill="#cc1d70"/>
<rect x="243.3" y="83.4" width="2.4" height="2.4" fill="#cc1d70"/>
<rect x="243.3" y="85.8" width="2.4" height="2.4" fill="#cc1d70"/>
<rect x="243.3" y="93.3" width="2.4" height="2.4" fill="#cc1d70"/>
<rect x="243.3" y="102.3" width="2.4" height="2.4" fill="#4e2a5c"/>
<rect x="243.3" y="114.1" width="2.4" height="2.4" fill="#cc1d70"/>
<rect x="243.3" y="121.3" width="2.4" height="2.4" fill="#cc1d70"/>
<rect x="243.3" y="132.5" width="2.4" height="2.4" fill="#58acd8"/>
<rect x="243.3" y="133.8" width="2.4" height="2.4" fill="#58acd8"/>
<rect x="243.3" y="139.8" width="2.4" height="2.4" fill="#cc1d70"/>
<rect x="243.3" y="144.4" width="2.4" height="2.4" fill="#cc1d70"/>
<rect x="243.3" y="146.48" width="2.4" height="2.4" fill="#c42a3a"/>
<rect x="243.3" y="149.23" width="2.4" height="2.4" fill="#cc1d70"/>
<rect x="243.3" y="151.46" width="2.4" height="2.4" fill="#c42a3a"/>
<rect x="243.3" y="154.01" width="2.4" height="2.4" fill="#cc1d70"/>
<rect x="243.3" y="156.91" width="2.4" height="2.4" fill="#9fb080"/>
<rect x="243.3" y="159.63" width="2.4" height="2.4" fill="#c42a3a"/>
<rect x="243.3" y="162.12" width="2.4" height="2.4" fill="#eeb07c"/>
<rect x="243.3" y="164.57" width="2.4" height="2.4" fill="#cc1d70"/>
<rect x="243.3" y="167.36" width="2.4" height="2.4" fill="#c42a3a"/>
<rect x="243.3" y="169.77" width="2.4" height="2.4" fill="#c42a3a"/>
<rect x="268.2" y="99.5" width="2.4" height="2.4" fill="#cc1d70"/>
<rect x="268.2" y="110" width="2.4" height="2.4" fill="#4e2a5c"/>
<rect x="268.2" y="114.8" width="2.4" height="2.4" fill="#cc1d70"/>
<rect x="268.2" y="117.3" width="2.4" height="2.4" fill="#cc1d70"/>
<rect x="268.2" y="118.8" width="2.4" height="2.4" fill="#9fb080"/>
<rect x="268.2" y="124.6" width="2.4" height="2.4" fill="#cc1d70"/>
<rect x="268.2" y="127.13" width="2.4" height="2.4" fill="#cc1d70"/>
<rect x="268.2" y="129.47" width="2.4" height="2.4" fill="#c42a3a"/>
<rect x="268.2" y="131.89" width="2.4" height="2.4" fill="#c42a3a"/>
<rect x="268.2" y="133.95" width="2.4" height="2.4" fill="#cc1d70"/>
<rect x="268.2" y="136.77" width="2.4" height="2.4" fill="#cc1d70"/>
<rect x="268.2" y="139.2" width="2.4" height="2.4" fill="#c42a3a"/>
<rect x="268.2" y="141.37" width="2.4" height="2.4" fill="#c42a3a"/>
<rect x="268.2" y="143.8" width="2.4" height="2.4" fill="#cc1d70"/>
<rect x="268.2" y="146.22" width="2.4" height="2.4" fill="#c42a3a"/>
<rect x="268.2" y="149" width="2.4" height="2.4" fill="#c42a3a"/>
<rect x="268.2" y="151.57" width="2.4" height="2.4" fill="#cc1d70"/>
<rect x="268.2" y="153.92" width="2.4" height="2.4" fill="#cc1d70"/>
<rect x="268.2" y="156.53" width="2.4" height="2.4" fill="#cc1d70"/>
<rect x="268.2" y="158.67" width="2.4" height="2.4" fill="#cc1d70"/>
<rect x="268.2" y="160.71" width="2.4" height="2.4" fill="#cc1d70"/>
<rect x="268.2" y="163.45" width="2.4" height="2.4" fill="#cc1d70"/>
<rect x="268.2" y="165.87" width="2.4" height="2.4" fill="#c42a3a"/>
<rect x="268.2" y="168.7" width="2.4" height="2.4" fill="#c42a3a"/>
<rect x="268.2" y="171.35" width="2.4" height="2.4" fill="#c42a3a"/>
<rect x="296.4" y="79.8" width="2.4" height="2.4" fill="#cc1d70"/>
<rect x="296.4" y="100.3" width="2.4" height="2.4" fill="#4e2a5c"/>
<rect x="296.4" y="111.6" width="2.4" height="2.4" fill="#cc1d70"/>
<rect x="296.4" y="113.87" width="2.4" height="2.4" fill="#cc1d70"/>
<rect x="296.4" y="116.3" width="2.4" height="2.4" fill="#cc1d70"/>
<rect x="296.4" y="120.5" width="2.4" height="2.4" fill="#9fb080"/>
<rect x="296.4" y="124.6" width="2.4" height="2.4" fill="#4e2a5c"/>
<rect x="296.4" y="127.09" width="2.4" height="2.4" fill="#4e2a5c"/>
<rect x="296.4" y="129.81" width="2.4" height="2.4" fill="#cc1d70"/>
<rect x="296.4" y="133.5" width="2.4" height="2.4" fill="#58acd8"/>
<rect x="296.4" y="135.75" width="2.4" height="2.4" fill="#58acd8"/>
<rect x="296.4" y="140.8" width="2.4" height="2.4" fill="#cc1d70"/>
<rect x="296.4" y="142.99" width="2.4" height="2.4" fill="#8e8a9a"/>
<rect x="296.4" y="145.74" width="2.4" height="2.4" fill="#cc1d70"/>
<rect x="296.4" y="148.46" width="2.4" height="2.4" fill="#8e8a9a"/>
<rect x="296.4" y="155.4" width="2.4" height="2.4" fill="#9fb080"/>
<rect x="296.4" y="158.6" width="2.4" height="2.4" fill="#cc1d70"/>
<rect x="296.4" y="161.16" width="2.4" height="2.4" fill="#cc1d70"/>
<rect x="296.4" y="163.24" width="2.4" height="2.4" fill="#cc1d70"/>
<rect x="296.4" y="165.55" width="2.4" height="2.4" fill="#c42a3a"/>
<rect x="296.4" y="168" width="2.4" height="2.4" fill="#c42a3a"/>
<rect x="296.4" y="170.22" width="2.4" height="2.4" fill="#cc1d70"/>
<rect x="328.2" y="84.2" width="2.4" height="2.4" fill="#4e2a5c"/>
<rect x="328.2" y="91.3" width="2.4" height="2.4" fill="#9fb080"/>
<rect x="328.2" y="116.8" width="2.4" height="2.4" fill="#cc1d70"/>
<rect x="328.2" y="126.8" width="2.4" height="2.4" fill="#4e2a5c"/>
<rect x="328.2" y="129.2" width="2.4" height="2.4" fill="#58acd8"/>
<rect x="328.2" y="130.8" width="2.4" height="2.4" fill="#58acd8"/>
<rect x="328.2" y="134.6" width="2.4" height="2.4" fill="#4e2a5c"/>
<rect x="328.2" y="140" width="2.4" height="2.4" fill="#cc1d70"/>
<rect x="328.2" y="145.1" width="2.4" height="2.4" fill="#cc1d70"/>
<rect x="328.2" y="147.77" width="2.4" height="2.4" fill="#cc1d70"/>
<rect x="328.2" y="150.8" width="2.4" height="2.4" fill="#c42a3a"/>
<rect x="328.2" y="153.38" width="2.4" height="2.4" fill="#c42a3a"/>
<rect x="328.2" y="155.49" width="2.4" height="2.4" fill="#cc1d70"/>
<rect x="328.2" y="158.27" width="2.4" height="2.4" fill="#cc1d70"/>
<rect x="328.2" y="160.76" width="2.4" height="2.4" fill="#c42a3a"/>
<rect x="328.2" y="162.98" width="2.4" height="2.4" fill="#cc1d70"/>
<rect x="328.2" y="165.18" width="2.4" height="2.4" fill="#58acd8"/>
<rect x="328.2" y="167.34" width="2.4" height="2.4" fill="#cc1d70"/>
<rect x="328.2" y="169.48" width="2.4" height="2.4" fill="#cc1d70"/>
<rect x="328.2" y="171.61" width="2.4" height="2.4" fill="#c42a3a"/>
<rect x="360.7" y="72.8" width="2.4" height="2.4" fill="#4e2a5c"/>
<rect x="360.7" y="89.4" width="2.4" height="2.4" fill="#9fb080"/>
<rect x="360.7" y="99" width="2.4" height="2.4" fill="#4e2a5c"/>
<rect x="360.7" y="103.8" width="2.4" height="2.4" fill="#4e2a5c"/>
<rect x="360.7" y="107.6" width="2.4" height="2.4" fill="#8e8a9a"/>
<rect x="360.7" y="115.3" width="2.4" height="2.4" fill="#4e2a5c"/>
<rect x="360.7" y="119.2" width="2.4" height="2.4" fill="#4e2a5c"/>
<rect x="360.7" y="121.64" width="2.4" height="2.4" fill="#4e2a5c"/>
<rect x="360.7" y="123.67" width="2.4" height="2.4" fill="#4e2a5c"/>
<rect x="360.7" y="128.8" width="2.4" height="2.4" fill="#cc1d70"/>
<rect x="360.7" y="131.67" width="2.4" height="2.4" fill="#cc1d70"/>
<rect x="360.7" y="133.96" width="2.4" height="2.4" fill="#cc1d70"/>
<rect x="360.7" y="136.5" width="2.4" height="2.4" fill="#9fb080"/>
<rect x="360.7" y="139.16" width="2.4" height="2.4" fill="#9fb080"/>
<rect x="360.7" y="141.98" width="2.4" height="2.4" fill="#9fb080"/>
<rect x="360.7" y="144.2" width="2.4" height="2.4" fill="#58acd8"/>
<rect x="360.7" y="146.83" width="2.4" height="2.4" fill="#cc1d70"/>
<rect x="360.7" y="149.07" width="2.4" height="2.4" fill="#58acd8"/>
<rect x="360.7" y="151.69" width="2.4" height="2.4" fill="#c42a3a"/>
<rect x="360.7" y="153.99" width="2.4" height="2.4" fill="#cc1d70"/>
<rect x="360.7" y="156.31" width="2.4" height="2.4" fill="#c42a3a"/>
<rect x="360.7" y="159.04" width="2.4" height="2.4" fill="#c42a3a"/>
<rect x="360.7" y="161.67" width="2.4" height="2.4" fill="#c42a3a"/>
<rect x="360.7" y="164.3" width="2.4" height="2.4" fill="#cc1d70"/>
<rect x="360.7" y="166.39" width="2.4" height="2.4" fill="#cc1d70"/>
<rect x="360.7" y="168.92" width="2.4" height="2.4" fill="#c42a3a"/>
<rect x="360.7" y="171.66" width="2.4" height="2.4" fill="#cc1d70"/>
<rect x="377.2" y="44.4" width="2.4" height="2.4" fill="#4e2a5c"/>
<rect x="377.2" y="48.6" width="2.4" height="2.4" fill="#4e2a5c"/>
<rect x="377.2" y="52.8" width="2.4" height="2.4" fill="#4e2a5c"/>
<rect x="377.2" y="55.58" width="2.4" height="2.4" fill="#4e2a5c"/>
<rect x="377.2" y="57.99" width="2.4" height="2.4" fill="#4e2a5c"/>
<rect x="377.2" y="60.15" width="2.4" height="2.4" fill="#4e2a5c"/>
<rect x="377.2" y="62.72" width="2.4" height="2.4" fill="#4e2a5c"/>
<rect x="377.2" y="64.8" width="2.4" height="2.4" fill="#4e2a5c"/>
<rect x="377.2" y="66.93" width="2.4" height="2.4" fill="#4e2a5c"/>
<rect x="377.2" y="73.1" width="2.4" height="2.4" fill="#4e2a5c"/>
<rect x="377.2" y="75.97" width="2.4" height="2.4" fill="#4e2a5c"/>
<rect x="377.2" y="78.53" width="2.4" height="2.4" fill="#4e2a5c"/>
<rect x="377.2" y="83.6" width="2.4" height="2.4" fill="#4e2a5c"/>
<rect x="377.2" y="86.39" width="2.4" height="2.4" fill="#8e8a9a"/>
<rect x="377.2" y="88.42" width="2.4" height="2.4" fill="#4e2a5c"/>
<rect x="377.2" y="90.71" width="2.4" height="2.4" fill="#8e8a9a"/>
<rect x="377.2" y="93.47" width="2.4" height="2.4" fill="#8e8a9a"/>
<rect x="377.2" y="95.68" width="2.4" height="2.4" fill="#4e2a5c"/>
<rect x="377.2" y="98.13" width="2.4" height="2.4" fill="#8e8a9a"/>
<rect x="377.2" y="100.21" width="2.4" height="2.4" fill="#8e8a9a"/>
<rect x="377.2" y="102.46" width="2.4" height="2.4" fill="#8e8a9a"/>
<rect x="377.2" y="107.8" width="2.4" height="2.4" fill="#58acd8"/>
<rect x="377.2" y="110.44" width="2.4" height="2.4" fill="#9fb080"/>
<rect x="377.2" y="113.12" width="2.4" height="2.4" fill="#9fb080"/>
<rect x="377.2" y="115.15" width="2.4" height="2.4" fill="#58acd8"/>
<rect x="377.2" y="116.8" width="2.4" height="2.4" fill="#8e8a9a"/>
<rect x="377.2" y="119.15" width="2.4" height="2.4" fill="#58acd8"/>
<rect x="377.2" y="121.91" width="2.4" height="2.4" fill="#58acd8"/>
<rect x="377.2" y="124.8" width="2.4" height="2.4" fill="#9fb080"/>
<rect x="377.2" y="127.22" width="2.4" height="2.4" fill="#9fb080"/>
<rect x="377.2" y="129.8" width="2.4" height="2.4" fill="#58acd8"/>
<rect x="377.2" y="132.5" width="2.4" height="2.4" fill="#58acd8"/>
<rect x="377.2" y="133.8" width="2.4" height="2.4" fill="#4e2a5c"/>
<rect x="377.2" y="136.1" width="2.4" height="2.4" fill="#4e2a5c"/>
<rect x="377.2" y="138.78" width="2.4" height="2.4" fill="#cc1d70"/>
<rect x="377.2" y="140.9" width="2.4" height="2.4" fill="#cc1d70"/>
<rect x="377.2" y="142.91" width="2.4" height="2.4" fill="#4e2a5c"/>
<rect x="377.2" y="145.8" width="2.4" height="2.4" fill="#8e8a9a"/>
<rect x="377.2" y="148.41" width="2.4" height="2.4" fill="#8e8a9a"/>
<rect x="377.2" y="151.8" width="2.4" height="2.4" fill="#c42a3a"/>
<rect x="377.2" y="154.69" width="2.4" height="2.4" fill="#c42a3a"/>
<rect x="377.2" y="157.06" width="2.4" height="2.4" fill="#c42a3a"/>
<rect x="377.2" y="159.6" width="2.4" height="2.4" fill="#9fb080"/>
<rect x="377.2" y="162.49" width="2.4" height="2.4" fill="#9fb080"/>
<rect x="377.2" y="164.73" width="2.4" height="2.4" fill="#9fb080"/>
<rect x="377.2" y="166.8" width="2.4" height="2.4" fill="#c42a3a"/>
<rect x="377.2" y="168.99" width="2.4" height="2.4" fill="#c42a3a"/>
<rect x="377.2" y="171.89" width="2.4" height="2.4" fill="#c42a3a"/>
<rect x="387.9" y="48.6" width="2.4" height="2.4" fill="#cc1d70"/>
<rect x="387.9" y="56.3" width="2.4" height="2.4" fill="#4e2a5c"/>
<rect x="387.9" y="61.2" width="2.4" height="2.4" fill="#cc1d70"/>
<rect x="387.9" y="63.44" width="2.4" height="2.4" fill="#cc1d70"/>
<rect x="387.9" y="65.57" width="2.4" height="2.4" fill="#cc1d70"/>
<rect x="387.9" y="72.4" width="2.4" height="2.4" fill="#cc1d70"/>
<rect x="387.9" y="81.5" width="2.4" height="2.4" fill="#cc1d70"/>
<rect x="387.9" y="91.3" width="2.4" height="2.4" fill="#cc1d70"/>
<rect x="387.9" y="93.92" width="2.4" height="2.4" fill="#4e2a5c"/>
<rect x="387.9" y="96.13" width="2.4" height="2.4" fill="#cc1d70"/>
<rect x="387.9" y="98.72" width="2.4" height="2.4" fill="#cc1d70"/>
<rect x="387.9" y="101.6" width="2.4" height="2.4" fill="#c42a3a"/>
<rect x="387.9" y="103.75" width="2.4" height="2.4" fill="#cc1d70"/>
<rect x="387.9" y="105.8" width="2.4" height="2.4" fill="#cc1d70"/>
<rect x="387.9" y="107.87" width="2.4" height="2.4" fill="#c42a3a"/>
<rect x="387.9" y="110.48" width="2.4" height="2.4" fill="#cc1d70"/>
<rect x="387.9" y="112.5" width="2.4" height="2.4" fill="#cc1d70"/>
<rect x="387.9" y="115.24" width="2.4" height="2.4" fill="#4e2a5c"/>
<rect x="387.9" y="117.44" width="2.4" height="2.4" fill="#cc1d70"/>
<rect x="387.9" y="120.29" width="2.4" height="2.4" fill="#cc1d70"/>
<rect x="387.9" y="122.88" width="2.4" height="2.4" fill="#cc1d70"/>
<rect x="387.9" y="125.37" width="2.4" height="2.4" fill="#4e2a5c"/>
<rect x="387.9" y="127.87" width="2.4" height="2.4" fill="#cc1d70"/>
<rect x="387.9" y="130.37" width="2.4" height="2.4" fill="#4e2a5c"/>
<rect x="387.9" y="133.11" width="2.4" height="2.4" fill="#cc1d70"/>
<rect x="387.9" y="135.65" width="2.4" height="2.4" fill="#4e2a5c"/>
<rect x="387.9" y="138.07" width="2.4" height="2.4" fill="#4e2a5c"/>
<rect x="387.9" y="141.3" width="2.4" height="2.4" fill="#9fb080"/>
<rect x="387.9" y="143.8" width="2.4" height="2.4" fill="#cc1d70"/>
<rect x="387.9" y="146.38" width="2.4" height="2.4" fill="#cc1d70"/>
<rect x="387.9" y="149.25" width="2.4" height="2.4" fill="#cc1d70"/>
<rect x="387.9" y="151.48" width="2.4" height="2.4" fill="#c42a3a"/>
<rect x="387.9" y="154.26" width="2.4" height="2.4" fill="#c42a3a"/>
<rect x="387.9" y="156.87" width="2.4" height="2.4" fill="#cc1d70"/>
<rect x="387.9" y="159.1" width="2.4" height="2.4" fill="#c42a3a"/>
<rect x="387.9" y="161.42" width="2.4" height="2.4" fill="#cc1d70"/>
<rect x="387.9" y="162.8" width="2.4" height="2.4" fill="#eeb07c"/>
<rect x="387.9" y="164.83" width="2.4" height="2.4" fill="#c42a3a"/>
<rect x="387.9" y="166.85" width="2.4" height="2.4" fill="#eeb07c"/>
<rect x="387.9" y="169.05" width="2.4" height="2.4" fill="#c42a3a"/>
<rect x="413" y="46.2" width="2.4" height="2.4" fill="#4e2a5c"/>
<rect x="413" y="57.3" width="2.4" height="2.4" fill="#4e2a5c"/>
<rect x="413" y="62.4" width="2.4" height="2.4" fill="#4e2a5c"/>
<rect x="413" y="69.3" width="2.4" height="2.4" fill="#9fb080"/>
<rect x="413" y="76.8" width="2.4" height="2.4" fill="#cc1d70"/>
<rect x="413" y="84.3" width="2.4" height="2.4" fill="#4e2a5c"/>
<rect x="413" y="98.3" width="2.4" height="2.4" fill="#4e2a5c"/>
<rect x="413" y="100.8" width="2.4" height="2.4" fill="#cc1d70"/>
<rect x="413" y="103.06" width="2.4" height="2.4" fill="#4e2a5c"/>
<rect x="413" y="105.65" width="2.4" height="2.4" fill="#4e2a5c"/>
<rect x="413" y="111.2" width="2.4" height="2.4" fill="#4e2a5c"/>
<rect x="413" y="112.8" width="2.4" height="2.4" fill="#cc1d70"/>
<rect x="413" y="114.92" width="2.4" height="2.4" fill="#cc1d70"/>
<rect x="413" y="119.8" width="2.4" height="2.4" fill="#4e2a5c"/>
<rect x="413" y="122.19" width="2.4" height="2.4" fill="#4e2a5c"/>
<rect x="413" y="124.8" width="2.4" height="2.4" fill="#58acd8"/>
<rect x="413" y="126.88" width="2.4" height="2.4" fill="#58acd8"/>
<rect x="413" y="129.8" width="2.4" height="2.4" fill="#cc1d70"/>
<rect x="413" y="132.65" width="2.4" height="2.4" fill="#cc1d70"/>
<rect x="413" y="134.97" width="2.4" height="2.4" fill="#cc1d70"/>
<rect x="413" y="137.8" width="2.4" height="2.4" fill="#58acd8"/>
<rect x="413" y="140.4" width="2.4" height="2.4" fill="#58acd8"/>
<rect x="413" y="143.8" width="2.4" height="2.4" fill="#cc1d70"/>
<rect x="413" y="146.11" width="2.4" height="2.4" fill="#cc1d70"/>
<rect x="413" y="148.83" width="2.4" height="2.4" fill="#cc1d70"/>
<rect x="413" y="151.45" width="2.4" height="2.4" fill="#cc1d70"/>
<rect x="413" y="154" width="2.4" height="2.4" fill="#c42a3a"/>
<rect x="413" y="156.4" width="2.4" height="2.4" fill="#c42a3a"/>
<rect x="413" y="158.88" width="2.4" height="2.4" fill="#cc1d70"/>
<rect x="413" y="161.06" width="2.4" height="2.4" fill="#cc1d70"/>
<rect x="413" y="163.38" width="2.4" height="2.4" fill="#cc1d70"/>
<rect x="413" y="165.8" width="2.4" height="2.4" fill="#cc1d70"/>
<rect x="413" y="168.05" width="2.4" height="2.4" fill="#c42a3a"/>
<rect x="413" y="170.57" width="2.4" height="2.4" fill="#cc1d70"/>
<rect x="441.2" y="46.2" width="2.4" height="2.4" fill="#4e2a5c"/>
<rect x="441.2" y="60.3" width="2.4" height="2.4" fill="#4e2a5c"/>
<rect x="441.2" y="75.3" width="2.4" height="2.4" fill="#4e2a5c"/>
<rect x="441.2" y="81.3" width="2.4" height="2.4" fill="#9fb080"/>
<rect x="441.2" y="90.5" width="2.4" height="2.4" fill="#8e8a9a"/>
<rect x="441.2" y="100.8" width="2.4" height="2.4" fill="#4e2a5c"/>
<rect x="441.2" y="105.1" width="2.4" height="2.4" fill="#cc1d70"/>
<rect x="441.2" y="108.8" width="2.4" height="2.4" fill="#8e8a9a"/>
<rect x="441.2" y="111.35" width="2.4" height="2.4" fill="#8e8a9a"/>
<rect x="441.2" y="113.6" width="2.4" height="2.4" fill="#8e8a9a"/>
<rect x="441.2" y="118" width="2.4" height="2.4" fill="#4e2a5c"/>
<rect x="441.2" y="123.2" width="2.4" height="2.4" fill="#8e8a9a"/>
<rect x="441.2" y="125.79" width="2.4" height="2.4" fill="#cc1d70"/>
<rect x="441.2" y="129.2" width="2.4" height="2.4" fill="#58acd8"/>
<rect x="441.2" y="131.55" width="2.4" height="2.4" fill="#58acd8"/>
<rect x="441.2" y="134.8" width="2.4" height="2.4" fill="#8e8a9a"/>
<rect x="441.2" y="137.12" width="2.4" height="2.4" fill="#8e8a9a"/>
<rect x="441.2" y="139.45" width="2.4" height="2.4" fill="#cc1d70"/>
<rect x="441.2" y="141.8" width="2.4" height="2.4" fill="#58acd8"/>
<rect x="441.2" y="143.95" width="2.4" height="2.4" fill="#58acd8"/>
<rect x="441.2" y="146.06" width="2.4" height="2.4" fill="#58acd8"/>
<rect x="441.2" y="148.8" width="2.4" height="2.4" fill="#cc1d70"/>
<rect x="441.2" y="150.98" width="2.4" height="2.4" fill="#c42a3a"/>
<rect x="441.2" y="153.35" width="2.4" height="2.4" fill="#c42a3a"/>
<rect x="441.2" y="156.15" width="2.4" height="2.4" fill="#cc1d70"/>
<rect x="441.2" y="158.94" width="2.4" height="2.4" fill="#cc1d70"/>
<rect x="441.2" y="161.74" width="2.4" height="2.4" fill="#58acd8"/>
<rect x="441.2" y="164.27" width="2.4" height="2.4" fill="#cc1d70"/>
<rect x="441.2" y="166.59" width="2.4" height="2.4" fill="#cc1d70"/>
<rect x="441.2" y="169.27" width="2.4" height="2.4" fill="#c42a3a"/>
<rect x="473.2" y="52.2" width="2.4" height="2.4" fill="#4e2a5c"/>
<rect x="473.2" y="61.1" width="2.4" height="2.4" fill="#4e2a5c"/>
<rect x="473.2" y="69.5" width="2.4" height="2.4" fill="#9fb080"/>
<rect x="473.2" y="71.51" width="2.4" height="2.4" fill="#9fb080"/>
<rect x="473.2" y="73.65" width="2.4" height="2.4" fill="#9fb080"/>
<rect x="473.2" y="84.8" width="2.4" height="2.4" fill="#4e2a5c"/>
<rect x="473.2" y="96.2" width="2.4" height="2.4" fill="#4e2a5c"/>
<rect x="473.2" y="98.97" width="2.4" height="2.4" fill="#4e2a5c"/>
<rect x="473.2" y="109.5" width="2.4" height="2.4" fill="#9fb080"/>
<rect x="473.2" y="114.3" width="2.4" height="2.4" fill="#cc1d70"/>
<rect x="473.2" y="116.72" width="2.4" height="2.4" fill="#cc1d70"/>
<rect x="473.2" y="118.97" width="2.4" height="2.4" fill="#cc1d70"/>
<rect x="473.2" y="121.28" width="2.4" height="2.4" fill="#cc1d70"/>
<rect x="473.2" y="127.6" width="2.4" height="2.4" fill="#58acd8"/>
<rect x="473.2" y="129.8" width="2.4" height="2.4" fill="#58acd8"/>
<rect x="473.2" y="132.01" width="2.4" height="2.4" fill="#58acd8"/>
<rect x="473.2" y="133.8" width="2.4" height="2.4" fill="#cc1d70"/>
<rect x="473.2" y="135.87" width="2.4" height="2.4" fill="#cc1d70"/>
<rect x="473.2" y="138.27" width="2.4" height="2.4" fill="#cc1d70"/>
<rect x="473.2" y="150.7" width="2.4" height="2.4" fill="#58acd8"/>
<rect x="473.2" y="142.8" width="2.4" height="2.4" fill="#8e8a9a"/>
<rect x="473.2" y="145.16" width="2.4" height="2.4" fill="#cc1d70"/>
<rect x="473.2" y="147.61" width="2.4" height="2.4" fill="#cc1d70"/>
<rect x="473.2" y="155.5" width="2.4" height="2.4" fill="#cc1d70"/>
<rect x="473.2" y="157.65" width="2.4" height="2.4" fill="#cc1d70"/>
<rect x="473.2" y="159.91" width="2.4" height="2.4" fill="#c42a3a"/>
<rect x="473.2" y="162.05" width="2.4" height="2.4" fill="#cc1d70"/>
<rect x="473.2" y="164.85" width="2.4" height="2.4" fill="#c42a3a"/>
<rect x="473.2" y="166.89" width="2.4" height="2.4" fill="#c42a3a"/>
<rect x="473.2" y="169.55" width="2.4" height="2.4" fill="#cc1d70"/>
<rect x="473.2" y="171.81" width="2.4" height="2.4" fill="#cc1d70"/>
<rect x="505.3" y="58.6" width="2.4" height="2.4" fill="#4e2a5c"/>
<rect x="505.3" y="61.02" width="2.4" height="2.4" fill="#4e2a5c"/>
<rect x="505.3" y="63.4" width="2.4" height="2.4" fill="#4e2a5c"/>
<rect x="505.3" y="69.5" width="2.4" height="2.4" fill="#4e2a5c"/>
<rect x="505.3" y="71.71" width="2.4" height="2.4" fill="#4e2a5c"/>
<rect x="505.3" y="76.8" width="2.4" height="2.4" fill="#9fb080"/>
<rect x="505.3" y="82.8" width="2.4" height="2.4" fill="#8e8a9a"/>
<rect x="505.3" y="86.5" width="2.4" height="2.4" fill="#4e2a5c"/>
<rect x="505.3" y="98.6" width="2.4" height="2.4" fill="#cc1d70"/>
<rect x="505.3" y="104.6" width="2.4" height="2.4" fill="#4e2a5c"/>
<rect x="505.3" y="107.46" width="2.4" height="2.4" fill="#4e2a5c"/>
<rect x="505.3" y="109.48" width="2.4" height="2.4" fill="#4e2a5c"/>
<rect x="505.3" y="112.34" width="2.4" height="2.4" fill="#4e2a5c"/>
<rect x="505.3" y="116.8" width="2.4" height="2.4" fill="#9fb080"/>
<rect x="505.3" y="121.6" width="2.4" height="2.4" fill="#cc1d70"/>
<rect x="505.3" y="124.02" width="2.4" height="2.4" fill="#cc1d70"/>
<rect x="505.3" y="126.4" width="2.4" height="2.4" fill="#58acd8"/>
<rect x="505.3" y="128.73" width="2.4" height="2.4" fill="#58acd8"/>
<rect x="505.3" y="131.43" width="2.4" height="2.4" fill="#58acd8"/>
<rect x="505.3" y="138.5" width="2.4" height="2.4" fill="#cc1d70"/>
<rect x="505.3" y="141.35" width="2.4" height="2.4" fill="#cc1d70"/>
<rect x="505.3" y="143.87" width="2.4" height="2.4" fill="#cc1d70"/>
<rect x="505.3" y="148.2" width="2.4" height="2.4" fill="#58acd8"/>
<rect x="505.3" y="150.67" width="2.4" height="2.4" fill="#58acd8"/>
<rect x="505.3" y="153.11" width="2.4" height="2.4" fill="#58acd8"/>
<rect x="505.3" y="155.39" width="2.4" height="2.4" fill="#58acd8"/>
<rect x="505.3" y="157.8" width="2.4" height="2.4" fill="#c42a3a"/>
<rect x="505.3" y="160.43" width="2.4" height="2.4" fill="#cc1d70"/>
<rect x="505.3" y="162.83" width="2.4" height="2.4" fill="#c42a3a"/>
<rect x="505.3" y="164.84" width="2.4" height="2.4" fill="#c42a3a"/>
<rect x="505.3" y="167.47" width="2.4" height="2.4" fill="#cc1d70"/>
<rect x="505.3" y="169.88" width="2.4" height="2.4" fill="#cc1d70"/>
<rect x="505.3" y="171.95" width="2.4" height="2.4" fill="#cc1d70"/>
<path d="M233.5,173.4 C237.17,173.4 240.83,173.4 244.5,173.4 C252.8,173.4 261.1,173.4 269.4,173.4 C278.8,173.4 288.2,173.4 297.6,173.4 C308.2,173.4 318.8,173.4 329.4,173.4 C340.23,173.4 351.07,173.4 361.9,173.4" fill="none" stroke="#9fc48a" stroke-width="0.8" stroke-linecap="round"/>
<path d="M233.5,172.8 C237.17,172.8 240.83,172.8 244.5,172.8 C252.8,172.8 261.1,172.8 269.4,172.8 C278.8,172.8 288.2,172.8 297.6,172.8 C308.2,172.8 318.8,172.8 329.4,172.8 C340.23,172.8 351.07,172.7 361.9,172.6" fill="none" stroke="#f2c898" stroke-width="0.8" stroke-linecap="round"/>
<path d="M233.5,140 C237.17,154.5 240.83,169 244.5,169 C252.8,169 261.1,168.33 269.4,167 C278.8,165.49 288.2,157 297.6,157 C308.2,157 318.8,161 329.4,161 C340.23,161 351.07,153.5 361.9,146" fill="none" stroke="#9cad7a" stroke-width="0.95" stroke-linecap="round"/>
<path d="M233.5,148.5 C237.17,158.25 240.83,168 244.5,168 C252.8,168 261.1,167.5 269.4,166.5 C278.8,165.37 288.2,160.8 297.6,160.8 C308.2,160.8 318.8,164.8 329.4,164.8 C340.23,164.8 351.07,162.8 361.9,160.8" fill="none" stroke="#4aa6d4" stroke-width="0.95" stroke-linecap="round"/>
<path d="M233.5,173.2 C237.17,166.45 240.83,159.7 244.5,159.7 C252.8,159.7 261.1,160.63 269.4,161.7 C278.8,162.91 288.2,166.72 297.6,166.9 C308.2,167.1 318.8,167.2 329.4,167.2 C340.23,167.2 351.07,166.8 361.9,166.4" fill="none" stroke="#b5283a" stroke-width="0.95" stroke-linecap="round"/>
<path d="M233.5,124.5 C237.17,144.35 240.83,164.2 244.5,164.2 C252.8,164.2 261.1,163.7 269.4,162.7 C278.8,161.57 288.2,143.5 297.6,143.5 C308.2,143.5 318.8,151.5 329.4,151.5 C340.23,151.5 351.07,141.6 361.9,131.7" fill="none" stroke="#45204f" stroke-width="0.95" stroke-linecap="round"/>
<path d="M233.5,152.2 C237.17,137.6 240.83,123 244.5,123 C252.8,123 261.1,138.94 269.4,141 C278.8,143.33 288.2,142.51 297.6,144.5 C308.2,146.75 318.8,154.4 329.4,154.4 C340.23,154.4 351.07,149.85 361.9,145.3" fill="none" stroke="#c01a66" stroke-width="0.95" stroke-linecap="round"/>
<path d="M378.4,173.5 C381.97,173.5 385.53,173.5 389.1,173.5 C397.47,173.5 405.83,173.5 414.2,173.5 C423.6,173.5 433,173.5 442.4,173.5 C453.07,173.5 463.73,173.5 474.4,173.5 C485.1,173.5 495.8,173.5 506.5,173.5" fill="none" stroke="#8fbf7a" stroke-width="0.8" stroke-linecap="round"/>
<path d="M378.4,171.2 C381.97,171.2 385.53,171.2 389.1,171.2 C397.47,171.2 405.83,171.2 414.2,171.2 C423.6,171.2 433,171.2 442.4,171.2 C453.07,171.2 463.73,171.2 474.4,171.2 C485.1,171.2 495.8,171.2 506.5,171.2" fill="none" stroke="#f2c090" stroke-width="0.8" stroke-linecap="round"/>
<path d="M378.4,138 C381.97,152.7 385.53,167.4 389.1,167.4 C397.47,167.4 405.83,160.84 414.2,155.8 C423.6,150.14 433,134.4 442.4,134.4 C453.07,134.4 463.73,134.4 474.4,134.4 C485.1,134.4 495.8,132.8 506.5,131.2" fill="none" stroke="#9cad7a" stroke-width="0.95" stroke-linecap="round"/>
<path d="M378.4,128.5 C381.97,142.7 385.53,156.9 389.1,156.9 C397.47,156.9 405.83,155.02 414.2,153.7 C423.6,152.22 433,148.3 442.4,148.3 C453.07,148.3 463.73,153.6 474.4,153.6 C485.1,153.6 495.8,152 506.5,150.4" fill="none" stroke="#4aa6d4" stroke-width="0.95" stroke-linecap="round"/>
<path d="M378.4,149.5 C381.97,142.7 385.53,135.9 389.1,135.9 C397.47,135.9 405.83,150.18 414.2,154.8 C423.6,159.99 433,164 442.4,164 C453.07,164 463.73,164 474.4,164 C485.1,164 495.8,166 506.5,168" fill="none" stroke="#b5283a" stroke-width="0.95" stroke-linecap="round"/>
<path d="M378.4,85.5 C381.97,118.05 385.53,150.6 389.1,150.6 C397.47,150.6 405.83,141.44 414.2,134.8 C423.6,127.34 433,107.2 442.4,107.2 C453.07,107.2 463.73,112.5 474.4,112.5 C485.1,112.5 495.8,109.05 506.5,105.6" fill="none" stroke="#45204f" stroke-width="0.95" stroke-linecap="round"/>
<path d="M378.4,171.6 C381.97,132.2 385.53,92.8 389.1,92.8 C397.47,92.8 405.83,129.64 414.2,134.8 C423.6,140.6 433,143.5 442.4,143.5 C453.07,143.5 463.73,138.7 474.4,138.7 C485.1,138.7 495.8,144 506.5,149.3" fill="none" stroke="#c01a66" stroke-width="0.95" stroke-linecap="round"/>
<text x="46" y="255.2" font-size="11.2" font-weight="bold" fill="#111" text-anchor="start" textLength="7.8" lengthAdjust="spacingAndGlyphs" stroke="#111" stroke-width="0.55">C</text>
<text x="92.8" y="266.6" font-size="8.9" font-weight="normal" fill="#35608f" text-anchor="start" textLength="50.2" lengthAdjust="spacingAndGlyphs" stroke="#35608f" stroke-width="0.06">Bone Marrow</text>
<text x="180" y="266.6" font-size="8.9" font-weight="normal" fill="#c2264a" text-anchor="start" textLength="62.3" lengthAdjust="spacingAndGlyphs" stroke="#c2264a" stroke-width="0.06">Peripheral Blood</text>
<line x1="72.5" y1="277.5" x2="72.5" y2="427.3" stroke="#2e2e2e" stroke-width="1.3"/>
<line x1="72" y1="427.3" x2="161.8" y2="427.3" stroke="#2e2e2e" stroke-width="1.3"/>
<line x1="165.8" y1="277.5" x2="165.8" y2="427.3" stroke="#2e2e2e" stroke-width="1.3"/>
<line x1="165.8" y1="427.3" x2="256.2" y2="427.3" stroke="#2e2e2e" stroke-width="1.3"/>
<line x1="68.7" y1="420" x2="72.5" y2="420" stroke="#2e2e2e" stroke-width="0.9"/>
<text x="66.3" y="422.3" font-size="6.6" font-weight="normal" fill="#1e1e1e" text-anchor="end" textLength="3.7" lengthAdjust="spacingAndGlyphs" stroke="#1e1e1e" stroke-width="0.06">0</text>
<line x1="68.7" y1="383.4" x2="72.5" y2="383.4" stroke="#2e2e2e" stroke-width="0.9"/>
<text x="66.3" y="385.7" font-size="6.6" font-weight="normal" fill="#1e1e1e" text-anchor="end" textLength="7" lengthAdjust="spacingAndGlyphs" stroke="#1e1e1e" stroke-width="0.06">25</text>
<line x1="68.7" y1="346.8" x2="72.5" y2="346.8" stroke="#2e2e2e" stroke-width="0.9"/>
<text x="66.3" y="349.1" font-size="6.6" font-weight="normal" fill="#1e1e1e" text-anchor="end" textLength="7" lengthAdjust="spacingAndGlyphs" stroke="#1e1e1e" stroke-width="0.06">50</text>
<line x1="68.7" y1="310.2" x2="72.5" y2="310.2" stroke="#2e2e2e" stroke-width="0.9"/>
<text x="66.3" y="312.5" font-size="6.6" font-weight="normal" fill="#1e1e1e" text-anchor="end" textLength="7" lengthAdjust="spacingAndGlyphs" stroke="#1e1e1e" stroke-width="0.06">75</text>
<text transform="translate(55.0,354.5) rotate(-90)" font-size="8.4" fill="#222" stroke="#222" stroke-width="0.15" text-anchor="middle" textLength="91" lengthAdjust="spacingAndGlyphs">Frequency out of lymphocytes (%)</text>
<line x1="76.4" y1="427.3" x2="76.4" y2="430.5" stroke="#2e2e2e" stroke-width="0.9"/>
<line x1="101.6" y1="427.3" x2="101.6" y2="430.5" stroke="#2e2e2e" stroke-width="0.9"/>
<line x1="123" y1="427.3" x2="123" y2="430.5" stroke="#2e2e2e" stroke-width="0.9"/>
<line x1="145.7" y1="427.3" x2="145.7" y2="430.5" stroke="#2e2e2e" stroke-width="0.9"/>
<line x1="170.2" y1="427.3" x2="170.2" y2="430.5" stroke="#2e2e2e" stroke-width="0.9"/>
<line x1="194.8" y1="427.3" x2="194.8" y2="430.5" stroke="#2e2e2e" stroke-width="0.9"/>
<line x1="217.2" y1="427.3" x2="217.2" y2="430.5" stroke="#2e2e2e" stroke-width="0.9"/>
<line x1="239.6" y1="427.3" x2="239.6" y2="430.5" stroke="#2e2e2e" stroke-width="0.9"/>
<text x="72" y="439.2" font-size="6.6" font-weight="normal" fill="#1e1e1e" text-anchor="start" textLength="11.6" lengthAdjust="spacingAndGlyphs" stroke="#1e1e1e" stroke-width="0.06">Pre-</text>
<text x="72" y="447.4" font-size="6.6" font-weight="normal" fill="#1e1e1e" text-anchor="start" textLength="6.3" lengthAdjust="spacingAndGlyphs" stroke="#1e1e1e" stroke-width="0.06">Tx</text>
<text x="164.3" y="439.2" font-size="6.6" font-weight="normal" fill="#1e1e1e" text-anchor="start" textLength="11.6" lengthAdjust="spacingAndGlyphs" stroke="#1e1e1e" stroke-width="0.06">Pre-</text>
<text x="164.3" y="447.4" font-size="6.6" font-weight="normal" fill="#1e1e1e" text-anchor="start" textLength="6.3" lengthAdjust="spacingAndGlyphs" stroke="#1e1e1e" stroke-width="0.06">Tx</text>
<text x="101.6" y="439.2" font-size="6.6" font-weight="normal" fill="#1e1e1e" text-anchor="middle" textLength="11" lengthAdjust="spacingAndGlyphs" stroke="#1e1e1e" stroke-width="0.06">100</text>
<text x="123" y="439.2" font-size="6.6" font-weight="normal" fill="#1e1e1e" text-anchor="middle" textLength="11" lengthAdjust="spacingAndGlyphs" stroke="#1e1e1e" stroke-width="0.06">200</text>
<text x="145.7" y="439.2" font-size="6.6" font-weight="normal" fill="#1e1e1e" text-anchor="middle" textLength="11" lengthAdjust="spacingAndGlyphs" stroke="#1e1e1e" stroke-width="0.06">300</text>
<text x="194.8" y="439.2" font-size="6.6" font-weight="normal" fill="#1e1e1e" text-anchor="middle" textLength="11" lengthAdjust="spacingAndGlyphs" stroke="#1e1e1e" stroke-width="0.06">100</text>
<text x="217.2" y="439.2" font-size="6.6" font-weight="normal" fill="#1e1e1e" text-anchor="middle" textLength="11" lengthAdjust="spacingAndGlyphs" stroke="#1e1e1e" stroke-width="0.06">200</text>
<text x="239.6" y="439.2" font-size="6.6" font-weight="normal" fill="#1e1e1e" text-anchor="middle" textLength="11" lengthAdjust="spacingAndGlyphs" stroke="#1e1e1e" stroke-width="0.06">300</text>
<line x1="100" y1="452" x2="228.5" y2="452" stroke="#2a2a2a" stroke-width="1.3"/>
<text x="137" y="463.3" font-size="9.1" font-weight="normal" fill="#1a1a1a" text-anchor="start" textLength="55" lengthAdjust="spacingAndGlyphs" stroke="#1a1a1a" stroke-width="0.25">Days post-transplant</text>
<path d="M76.5,270.8 L76.5,272.9 M75.4,271.4 L77.6,272.3 M77.6,271.4 L75.4,272.3" stroke="#1a1a1a" stroke-width="0.9" stroke-linecap="round"/>
<path d="M86,270.8 L86,272.9 M84.9,271.4 L87.1,272.3 M87.1,271.4 L84.9,272.3" stroke="#1a1a1a" stroke-width="0.9" stroke-linecap="round"/>
<path d="M102,270.8 L102,272.9 M100.9,271.4 L103.1,272.3 M103.1,271.4 L100.9,272.3" stroke="#1a1a1a" stroke-width="0.9" stroke-linecap="round"/>
<path d="M170,270.8 L170,272.9 M168.9,271.4 L171.1,272.3 M171.1,271.4 L168.9,272.3" stroke="#1a1a1a" stroke-width="0.9" stroke-linecap="round"/>
<path d="M179.6,270.8 L179.6,272.9 M178.5,271.4 L180.7,272.3 M180.7,271.4 L178.5,272.3" stroke="#1a1a1a" stroke-width="0.9" stroke-linecap="round"/>
<path d="M212.8,270.8 L212.8,272.9 M211.7,271.4 L213.9,272.3 M213.9,271.4 L211.7,272.3" stroke="#1a1a1a" stroke-width="0.9" stroke-linecap="round"/>
<path d="M252.7,270.8 L252.7,272.9 M251.6,271.4 L253.8,272.3 M253.8,271.4 L251.6,272.3" stroke="#1a1a1a" stroke-width="0.9" stroke-linecap="round"/>
<rect x="119.2" y="472.4" width="5.8" height="6" fill="#36a7d6"/>
<text x="129" y="477.8" font-size="6.6" fill="#333" textLength="40.5" lengthAdjust="spacingAndGlyphs">T cells (CD3<tspan font-size="4.5" dy="-2.5">+</tspan><tspan dy="2.5">)</tspan></text>
<rect x="177.3" y="472.4" width="5.6" height="6" fill="#d6267a"/>
<text x="186.3" y="477.8" font-size="6.6" font-weight="normal" fill="#1e1e1e" text-anchor="start" textLength="23.5" lengthAdjust="spacingAndGlyphs" stroke="#1e1e1e" stroke-width="0.06">NK cells</text>
<circle cx="86.5" cy="489.2" r="1.4" fill="none" stroke="#333" stroke-width="0.7"/>
<text x="91.1" y="491.6" font-size="6.6" font-weight="normal" fill="#1e1e1e" text-anchor="start" textLength="12.6" lengthAdjust="spacingAndGlyphs" stroke="#1e1e1e" stroke-width="0.06">CBT</text>
<polygon points="111.9,487.6 113.4,490.4 110.4,490.4" fill="none" stroke="#333" stroke-width="0.55"/>
<text x="117.3" y="491.6" font-size="6.6" font-weight="normal" fill="#1e1e1e" text-anchor="start" textLength="39.5" lengthAdjust="spacingAndGlyphs" stroke="#1e1e1e" stroke-width="0.06">Haploidentical</text>
<rect x="163.5" y="488.1" width="2.2" height="2.2" fill="#111"/>
<text x="169.5" y="491.6" font-size="6.6" font-weight="normal" fill="#1e1e1e" text-anchor="start" textLength="17.8" lengthAdjust="spacingAndGlyphs" stroke="#1e1e1e" stroke-width="0.06">PBSC</text>
<circle cx="195.5" cy="489.2" r="1.4" fill="#111" stroke="none" stroke-width="0.6"/>
<text x="200.1" y="491.6" font-size="6.6" font-weight="normal" fill="#1e1e1e" text-anchor="start" textLength="43.8" lengthAdjust="spacingAndGlyphs" stroke="#1e1e1e" stroke-width="0.06">CD34-selected</text>
<circle cx="76.3" cy="284.3" r="1.5" fill="#2f9fd0" stroke="none" stroke-width="0.6"/>
<circle cx="76.3" cy="308.3" r="1.5" fill="#2f9fd0" stroke="none" stroke-width="0.6"/>
<circle cx="76.3" cy="320.7" r="1.5" fill="#2f9fd0" stroke="none" stroke-width="0.6"/>
<circle cx="76.3" cy="348.2" r="1.5" fill="#2f9fd0" stroke="none" stroke-width="0.6"/>
<circle cx="76.3" cy="357" r="1.5" fill="#2f9fd0" stroke="none" stroke-width="0.6"/>
<circle cx="76.3" cy="361" r="1.5" fill="#2f9fd0" stroke="none" stroke-width="0.6"/>
<circle cx="76.3" cy="364.2" r="1.5" fill="#2f9fd0" stroke="none" stroke-width="0.6"/>
<circle cx="76.3" cy="367.4" r="1.5" fill="#2f9fd0" stroke="none" stroke-width="0.6"/>
<circle cx="76.3" cy="370.6" r="1.5" fill="#2f9fd0" stroke="none" stroke-width="0.6"/>
<circle cx="76.3" cy="386" r="1.5" fill="#2f9fd0" stroke="none" stroke-width="0.6"/>
<circle cx="76.3" cy="392" r="1.5" fill="#2f9fd0" stroke="none" stroke-width="0.6"/>
<circle cx="76.3" cy="398" r="1.5" fill="#2f9fd0" stroke="none" stroke-width="0.6"/>
<circle cx="76.3" cy="405" r="1.5" fill="#2f9fd0" stroke="none" stroke-width="0.6"/>
<circle cx="76.3" cy="411" r="1.5" fill="#2f9fd0" stroke="none" stroke-width="0.6"/>
<circle cx="76.3" cy="417" r="1.5" fill="#2f9fd0" stroke="none" stroke-width="0.6"/>
<circle cx="76.3" cy="341" r="1.5" fill="#cf1f72" stroke="none" stroke-width="0.6"/>
<circle cx="76.3" cy="377" r="1.5" fill="#cf1f72" stroke="none" stroke-width="0.6"/>
<circle cx="76.3" cy="381.8" r="1.5" fill="#cf1f72" stroke="none" stroke-width="0.6"/>
<circle cx="76.3" cy="384" r="1.5" fill="#cf1f72" stroke="none" stroke-width="0.6"/>
<circle cx="76.3" cy="389" r="1.5" fill="#cf1f72" stroke="none" stroke-width="0.6"/>
<circle cx="76.3" cy="395" r="1.5" fill="#cf1f72" stroke="none" stroke-width="0.6"/>
<circle cx="76.3" cy="401" r="1.5" fill="#cf1f72" stroke="none" stroke-width="0.6"/>
<circle cx="76.3" cy="403" r="1.5" fill="#cf1f72" stroke="none" stroke-width="0.6"/>
<circle cx="76.3" cy="408" r="1.5" fill="#cf1f72" stroke="none" stroke-width="0.6"/>
<circle cx="76.3" cy="414" r="1.5" fill="#cf1f72" stroke="none" stroke-width="0.6"/>
<circle cx="76.3" cy="418.6" r="1.5" fill="#cf1f72" stroke="none" stroke-width="0.6"/>
<circle cx="86.2" cy="304.5" r="1.5" fill="#cf1f72" stroke="none" stroke-width="0.6"/>
<circle cx="86.2" cy="317.7" r="1.5" fill="#cf1f72" stroke="none" stroke-width="0.6"/>
<circle cx="86.2" cy="328.2" r="1.5" fill="#cf1f72" stroke="none" stroke-width="0.6"/>
<circle cx="86.2" cy="329.7" r="1.5" fill="#cf1f72" stroke="none" stroke-width="0.6"/>
<circle cx="86.2" cy="339.5" r="1.35" fill="#fff" stroke="#cf1f72" stroke-width="0.7"/>
<circle cx="86.2" cy="361" r="1.5" fill="#cf1f72" stroke="none" stroke-width="0.6"/>
<circle cx="86.2" cy="365.8" r="1.5" fill="#cf1f72" stroke="none" stroke-width="0.6"/>
<circle cx="86.2" cy="369" r="1.5" fill="#cf1f72" stroke="none" stroke-width="0.6"/>
<circle cx="86.2" cy="381" r="1.5" fill="#cf1f72" stroke="none" stroke-width="0.6"/>
<circle cx="86.2" cy="392.2" r="1.5" fill="#cf1f72" stroke="none" stroke-width="0.6"/>
<circle cx="86.2" cy="396.2" r="1.5" fill="#cf1f72" stroke="none" stroke-width="0.6"/>
<polygon points="86.2,346.8 87.9,349.8 84.5,349.8" fill="none" stroke="#2f9fd0" stroke-width="0.7"/>
<circle cx="86.2" cy="399.4" r="1.5" fill="#2f9fd0" stroke="none" stroke-width="0.6"/>
<circle cx="86.2" cy="405.8" r="1.5" fill="#2f9fd0" stroke="none" stroke-width="0.6"/>
<circle cx="86.2" cy="409" r="1.5" fill="#2f9fd0" stroke="none" stroke-width="0.6"/>
<circle cx="86.2" cy="412" r="1.5" fill="#2f9fd0" stroke="none" stroke-width="0.6"/>
<circle cx="86.2" cy="415" r="1.5" fill="#2f9fd0" stroke="none" stroke-width="0.6"/>
<circle cx="86.2" cy="418" r="1.5" fill="#2f9fd0" stroke="none" stroke-width="0.6"/>
<circle cx="86.2" cy="420.2" r="1.5" fill="#2f9fd0" stroke="none" stroke-width="0.6"/>
<circle cx="101.7" cy="345.8" r="1.5" fill="#cf1f72" stroke="none" stroke-width="0.6"/>
<circle cx="101.7" cy="362.6" r="1.35" fill="#fff" stroke="#cf1f72" stroke-width="0.7"/>
<circle cx="101.7" cy="372" r="1.5" fill="#cf1f72" stroke="none" stroke-width="0.6"/>
<circle cx="101.7" cy="375.5" r="1.5" fill="#cf1f72" stroke="none" stroke-width="0.6"/>
<circle cx="101.7" cy="379" r="1.5" fill="#cf1f72" stroke="none" stroke-width="0.6"/>
<circle cx="101.7" cy="383" r="1.5" fill="#cf1f72" stroke="none" stroke-width="0.6"/>
<circle cx="101.7" cy="387" r="1.5" fill="#cf1f72" stroke="none" stroke-width="0.6"/>
<circle cx="101.7" cy="390.5" r="1.5" fill="#cf1f72" stroke="none" stroke-width="0.6"/>
<circle cx="101.7" cy="394" r="1.5" fill="#cf1f72" stroke="none" stroke-width="0.6"/>
<circle cx="101.7" cy="398" r="1.5" fill="#cf1f72" stroke="none" stroke-width="0.6"/>
<circle cx="101.7" cy="402.6" r="1.5" fill="#cf1f72" stroke="none" stroke-width="0.6"/>
<circle cx="101.7" cy="356.2" r="1.5" fill="#2f9fd0" stroke="none" stroke-width="0.6"/>
<circle cx="101.7" cy="407.4" r="1.5" fill="#2f9fd0" stroke="none" stroke-width="0.6"/>
<circle cx="101.7" cy="413.8" r="1.5" fill="#2f9fd0" stroke="none" stroke-width="0.6"/>
<circle cx="101.7" cy="417" r="1.5" fill="#2f9fd0" stroke="none" stroke-width="0.6"/>
<circle cx="119.3" cy="326" r="1.5" fill="#cf1f72" stroke="none" stroke-width="0.6"/>
<circle cx="119.3" cy="358.6" r="1.5" fill="#cf1f72" stroke="none" stroke-width="0.6"/>
<circle cx="119.3" cy="361" r="1.5" fill="#cf1f72" stroke="none" stroke-width="0.6"/>
<circle cx="119.3" cy="363.4" r="1.5" fill="#cf1f72" stroke="none" stroke-width="0.6"/>
<circle cx="119.3" cy="383.4" r="1.5" fill="#cf1f72" stroke="none" stroke-width="0.6"/>
<circle cx="119.3" cy="405.8" r="1.5" fill="#cf1f72" stroke="none" stroke-width="0.6"/>
<circle cx="119.3" cy="408" r="1.5" fill="#cf1f72" stroke="none" stroke-width="0.6"/>
<circle cx="119.3" cy="410" r="1.5" fill="#cf1f72" stroke="none" stroke-width="0.6"/>
<circle cx="119.3" cy="412.2" r="1.5" fill="#cf1f72" stroke="none" stroke-width="0.6"/>
<circle cx="119.3" cy="346.2" r="1.5" fill="#2f9fd0" stroke="none" stroke-width="0.6"/>
<circle cx="119.3" cy="374.6" r="1.5" fill="#2f9fd0" stroke="none" stroke-width="0.6"/>
<circle cx="119.3" cy="377.8" r="1.5" fill="#2f9fd0" stroke="none" stroke-width="0.6"/>
<circle cx="119.3" cy="388.2" r="1.5" fill="#2f9fd0" stroke="none" stroke-width="0.6"/>
<circle cx="119.3" cy="418.9" r="1.5" fill="#2f9fd0" stroke="none" stroke-width="0.6"/>
<circle cx="139" cy="330.5" r="1.5" fill="#2f9fd0" stroke="none" stroke-width="0.6"/>
<polygon points="139,372.1 140.7,375.1 137.3,375.1" fill="none" stroke="#2f9fd0" stroke-width="0.7"/>
<circle cx="139" cy="381.8" r="1.5" fill="#2f9fd0" stroke="none" stroke-width="0.6"/>
<circle cx="139" cy="396" r="1.5" fill="#2f9fd0" stroke="none" stroke-width="0.6"/>
<circle cx="139" cy="417.8" r="1.5" fill="#2f9fd0" stroke="none" stroke-width="0.6"/>
<polygon points="139,361.7 140.7,364.7 137.3,364.7" fill="none" stroke="#cf1f72" stroke-width="0.7"/>
<circle cx="139" cy="387.4" r="1.5" fill="#cf1f72" stroke="none" stroke-width="0.6"/>
<circle cx="139" cy="393" r="1.5" fill="#cf1f72" stroke="none" stroke-width="0.6"/>
<circle cx="139" cy="399.4" r="1.5" fill="#cf1f72" stroke="none" stroke-width="0.6"/>
<circle cx="139" cy="402" r="1.5" fill="#cf1f72" stroke="none" stroke-width="0.6"/>
<circle cx="139" cy="405" r="1.5" fill="#cf1f72" stroke="none" stroke-width="0.6"/>
<circle cx="139" cy="408" r="1.5" fill="#cf1f72" stroke="none" stroke-width="0.6"/>
<circle cx="139" cy="411" r="1.5" fill="#cf1f72" stroke="none" stroke-width="0.6"/>
<circle cx="139" cy="413" r="1.5" fill="#cf1f72" stroke="none" stroke-width="0.6"/>
<circle cx="139" cy="415.4" r="1.5" fill="#cf1f72" stroke="none" stroke-width="0.6"/>
<circle cx="159" cy="318.5" r="1.5" fill="#2f9fd0" stroke="none" stroke-width="0.6"/>
<circle cx="159" cy="345.5" r="1.5" fill="#2f9fd0" stroke="none" stroke-width="0.6"/>
<circle cx="159" cy="354.9" r="1.5" fill="#2f9fd0" stroke="none" stroke-width="0.6"/>
<circle cx="159" cy="362.3" r="1.5" fill="#2f9fd0" stroke="none" stroke-width="0.6"/>
<circle cx="159" cy="365.8" r="1.5" fill="#2f9fd0" stroke="none" stroke-width="0.6"/>
<circle cx="159" cy="370.6" r="1.5" fill="#2f9fd0" stroke="none" stroke-width="0.6"/>
<circle cx="159" cy="415.4" r="1.5" fill="#2f9fd0" stroke="none" stroke-width="0.6"/>
<circle cx="159" cy="335.7" r="1.5" fill="#cf1f72" stroke="none" stroke-width="0.6"/>
<circle cx="159" cy="376.2" r="1.5" fill="#cf1f72" stroke="none" stroke-width="0.6"/>
<circle cx="159" cy="378.5" r="1.5" fill="#cf1f72" stroke="none" stroke-width="0.6"/>
<circle cx="159" cy="380.2" r="1.5" fill="#cf1f72" stroke="none" stroke-width="0.6"/>
<circle cx="159" cy="388.2" r="1.5" fill="#cf1f72" stroke="none" stroke-width="0.6"/>
<circle cx="159" cy="396.2" r="1.5" fill="#cf1f72" stroke="none" stroke-width="0.6"/>
<circle cx="159" cy="403.4" r="1.5" fill="#cf1f72" stroke="none" stroke-width="0.6"/>
<circle cx="159" cy="409" r="1.5" fill="#cf1f72" stroke="none" stroke-width="0.6"/>
<circle cx="169.8" cy="289.3" r="1.5" fill="#2f9fd0" stroke="none" stroke-width="0.6"/>
<circle cx="169.8" cy="293.7" r="1.5" fill="#2f9fd0" stroke="none" stroke-width="0.6"/>
<circle cx="169.8" cy="299" r="1.35" fill="#fff" stroke="#2f9fd0" stroke-width="0.7"/>
<circle cx="169.8" cy="302.7" r="1.5" fill="#2f9fd0" stroke="none" stroke-width="0.6"/>
<circle cx="169.8" cy="305" r="1.5" fill="#2f9fd0" stroke="none" stroke-width="0.6"/>
<circle cx="169.8" cy="307.2" r="1.5" fill="#2f9fd0" stroke="none" stroke-width="0.6"/>
<circle cx="169.8" cy="311.7" r="1.5" fill="#2f9fd0" stroke="none" stroke-width="0.6"/>
<polygon points="169.8,317.5 171.5,320.5 168.1,320.5" fill="none" stroke="#2f9fd0" stroke-width="0.7"/>
<circle cx="169.8" cy="323" r="1.5" fill="#2f9fd0" stroke="none" stroke-width="0.6"/>
<circle cx="169.8" cy="326.7" r="1.5" fill="#2f9fd0" stroke="none" stroke-width="0.6"/>
<circle cx="169.8" cy="330.5" r="1.5" fill="#2f9fd0" stroke="none" stroke-width="0.6"/>
<circle cx="169.8" cy="333" r="1.5" fill="#2f9fd0" stroke="none" stroke-width="0.6"/>
<circle cx="169.8" cy="335" r="1.5" fill="#2f9fd0" stroke="none" stroke-width="0.6"/>
<circle cx="169.8" cy="338.7" r="1.5" fill="#2f9fd0" stroke="none" stroke-width="0.6"/>
<circle cx="169.8" cy="341.7" r="1.5" fill="#2f9fd0" stroke="none" stroke-width="0.6"/>
<circle cx="169.8" cy="344" r="1.5" fill="#2f9fd0" stroke="none" stroke-width="0.6"/>
<circle cx="169.8" cy="346.5" r="1.5" fill="#2f9fd0" stroke="none" stroke-width="0.6"/>
<circle cx="169.8" cy="350" r="1.5" fill="#2f9fd0" stroke="none" stroke-width="0.6"/>
<circle cx="169.8" cy="352.2" r="1.5" fill="#2f9fd0" stroke="none" stroke-width="0.6"/>
<circle cx="169.8" cy="370.6" r="1.5" fill="#2f9fd0" stroke="none" stroke-width="0.6"/>
<circle cx="169.8" cy="374" r="1.5" fill="#2f9fd0" stroke="none" stroke-width="0.6"/>
<circle cx="169.8" cy="378" r="1.5" fill="#2f9fd0" stroke="none" stroke-width="0.6"/>
<circle cx="169.8" cy="381.5" r="1.5" fill="#2f9fd0" stroke="none" stroke-width="0.6"/>
<circle cx="169.8" cy="385" r="1.5" fill="#2f9fd0" stroke="none" stroke-width="0.6"/>
<circle cx="169.8" cy="358.6" r="1.5" fill="#cf1f72" stroke="none" stroke-width="0.6"/>
<circle cx="169.8" cy="393" r="1.5" fill="#cf1f72" stroke="none" stroke-width="0.6"/>
<circle cx="169.8" cy="396" r="1.5" fill="#cf1f72" stroke="none" stroke-width="0.6"/>
<circle cx="169.8" cy="399" r="1.5" fill="#cf1f72" stroke="none" stroke-width="0.6"/>
<circle cx="169.8" cy="402" r="1.5" fill="#cf1f72" stroke="none" stroke-width="0.6"/>
<circle cx="169.8" cy="405" r="1.5" fill="#cf1f72" stroke="none" stroke-width="0.6"/>
<circle cx="169.8" cy="408" r="1.5" fill="#cf1f72" stroke="none" stroke-width="0.6"/>
<circle cx="169.8" cy="411" r="1.5" fill="#cf1f72" stroke="none" stroke-width="0.6"/>
<circle cx="169.8" cy="413.8" r="1.5" fill="#cf1f72" stroke="none" stroke-width="0.6"/>
<circle cx="169.8" cy="418.6" r="1.5" fill="#cf1f72" stroke="none" stroke-width="0.6"/>
<circle cx="179.8" cy="293.7" r="1.5" fill="#cf1f72" stroke="none" stroke-width="0.6"/>
<circle cx="179.8" cy="306.5" r="1.5" fill="#cf1f72" stroke="none" stroke-width="0.6"/>
<circle cx="179.8" cy="308.7" r="1.5" fill="#cf1f72" stroke="none" stroke-width="0.6"/>
<circle cx="179.8" cy="314.7" r="1.5" fill="#cf1f72" stroke="none" stroke-width="0.6"/>
<circle cx="179.8" cy="317.5" r="1.5" fill="#cf1f72" stroke="none" stroke-width="0.6"/>
<circle cx="179.8" cy="320" r="1.5" fill="#cf1f72" stroke="none" stroke-width="0.6"/>
<circle cx="179.8" cy="328.2" r="1.5" fill="#cf1f72" stroke="none" stroke-width="0.6"/>
<circle cx="179.8" cy="338" r="1.35" fill="#fff" stroke="#cf1f72" stroke-width="0.7"/>
<circle cx="179.8" cy="342" r="1.5" fill="#cf1f72" stroke="none" stroke-width="0.6"/>
<circle cx="179.8" cy="347.4" r="1.35" fill="#fff" stroke="#cf1f72" stroke-width="0.7"/>
<circle cx="179.8" cy="353" r="1.5" fill="#cf1f72" stroke="none" stroke-width="0.6"/>
<circle cx="179.8" cy="364.2" r="1.5" fill="#cf1f72" stroke="none" stroke-width="0.6"/>
<circle cx="179.8" cy="370.6" r="1.5" fill="#cf1f72" stroke="none" stroke-width="0.6"/>
<circle cx="179.8" cy="375.4" r="1.5" fill="#cf1f72" stroke="none" stroke-width="0.6"/>
<polygon points="179.8,300.3 181.5,303.3 178.1,303.3" fill="none" stroke="#2f9fd0" stroke-width="0.7"/>
<circle cx="179.8" cy="378.6" r="1.5" fill="#2f9fd0" stroke="none" stroke-width="0.6"/>
<circle cx="179.8" cy="394.6" r="1.5" fill="#2f9fd0" stroke="none" stroke-width="0.6"/>
<circle cx="179.8" cy="397.8" r="1.5" fill="#2f9fd0" stroke="none" stroke-width="0.6"/>
<circle cx="179.8" cy="401" r="1.5" fill="#2f9fd0" stroke="none" stroke-width="0.6"/>
<circle cx="179.8" cy="405.8" r="1.5" fill="#2f9fd0" stroke="none" stroke-width="0.6"/>
<circle cx="179.8" cy="409" r="1.5" fill="#2f9fd0" stroke="none" stroke-width="0.6"/>
<circle cx="179.8" cy="412" r="1.5" fill="#2f9fd0" stroke="none" stroke-width="0.6"/>
<circle cx="179.8" cy="415" r="1.5" fill="#2f9fd0" stroke="none" stroke-width="0.6"/>
<circle cx="179.8" cy="418" r="1.5" fill="#2f9fd0" stroke="none" stroke-width="0.6"/>
<circle cx="179.8" cy="420.2" r="1.5" fill="#2f9fd0" stroke="none" stroke-width="0.6"/>
<circle cx="195.5" cy="291.5" r="1.5" fill="#2f9fd0" stroke="none" stroke-width="0.6"/>
<circle cx="195.5" cy="302.3" r="1.5" fill="#2f9fd0" stroke="none" stroke-width="0.6"/>
<circle cx="195.5" cy="330.5" r="1.5" fill="#2f9fd0" stroke="none" stroke-width="0.6"/>
<circle cx="195.5" cy="344.7" r="1.5" fill="#2f9fd0" stroke="none" stroke-width="0.6"/>
<circle cx="195.5" cy="348.5" r="1.5" fill="#2f9fd0" stroke="none" stroke-width="0.6"/>
<circle cx="195.5" cy="383.4" r="1.5" fill="#2f9fd0" stroke="none" stroke-width="0.6"/>
<circle cx="195.5" cy="388" r="1.5" fill="#2f9fd0" stroke="none" stroke-width="0.6"/>
<circle cx="195.5" cy="395" r="1.5" fill="#2f9fd0" stroke="none" stroke-width="0.6"/>
<circle cx="195.5" cy="404" r="1.5" fill="#2f9fd0" stroke="none" stroke-width="0.6"/>
<circle cx="195.5" cy="409" r="1.5" fill="#2f9fd0" stroke="none" stroke-width="0.6"/>
<circle cx="195.5" cy="413" r="1.5" fill="#2f9fd0" stroke="none" stroke-width="0.6"/>
<circle cx="195.5" cy="417" r="1.5" fill="#2f9fd0" stroke="none" stroke-width="0.6"/>
<circle cx="195.5" cy="420.2" r="1.5" fill="#2f9fd0" stroke="none" stroke-width="0.6"/>
<circle cx="195.5" cy="323.7" r="1.5" fill="#cf1f72" stroke="none" stroke-width="0.6"/>
<circle cx="195.5" cy="351.4" r="1.5" fill="#cf1f72" stroke="none" stroke-width="0.6"/>
<circle cx="195.5" cy="360.2" r="1.5" fill="#cf1f72" stroke="none" stroke-width="0.6"/>
<circle cx="195.5" cy="369.8" r="1.5" fill="#cf1f72" stroke="none" stroke-width="0.6"/>
<circle cx="195.5" cy="374.6" r="1.5" fill="#cf1f72" stroke="none" stroke-width="0.6"/>
<circle cx="195.5" cy="378.6" r="1.5" fill="#cf1f72" stroke="none" stroke-width="0.6"/>
<circle cx="195.5" cy="386" r="1.5" fill="#cf1f72" stroke="none" stroke-width="0.6"/>
<circle cx="195.5" cy="391" r="1.5" fill="#cf1f72" stroke="none" stroke-width="0.6"/>
<circle cx="195.5" cy="398" r="1.5" fill="#cf1f72" stroke="none" stroke-width="0.6"/>
<circle cx="195.5" cy="401" r="1.5" fill="#cf1f72" stroke="none" stroke-width="0.6"/>
<circle cx="213" cy="291.8" r="1.5" fill="#2f9fd0" stroke="none" stroke-width="0.6"/>
<circle cx="213" cy="306" r="1.5" fill="#2f9fd0" stroke="none" stroke-width="0.6"/>
<circle cx="213" cy="321.5" r="1.5" fill="#2f9fd0" stroke="none" stroke-width="0.6"/>
<circle cx="213" cy="326.7" r="1.35" fill="#fff" stroke="#2f9fd0" stroke-width="0.7"/>
<circle cx="213" cy="331.2" r="1.5" fill="#2f9fd0" stroke="none" stroke-width="0.6"/>
<circle cx="213" cy="334.2" r="1.5" fill="#2f9fd0" stroke="none" stroke-width="0.6"/>
<circle cx="213" cy="347.7" r="1.5" fill="#2f9fd0" stroke="none" stroke-width="0.6"/>
<circle cx="213" cy="360.2" r="1.5" fill="#2f9fd0" stroke="none" stroke-width="0.6"/>
<circle cx="213" cy="383.4" r="1.35" fill="#fff" stroke="#2f9fd0" stroke-width="0.7"/>
<circle cx="213" cy="386.6" r="1.5" fill="#2f9fd0" stroke="none" stroke-width="0.6"/>
<circle cx="213" cy="404.2" r="1.5" fill="#2f9fd0" stroke="none" stroke-width="0.6"/>
<circle cx="213" cy="351.4" r="1.5" fill="#cf1f72" stroke="none" stroke-width="0.6"/>
<circle cx="213" cy="369.8" r="1.5" fill="#cf1f72" stroke="none" stroke-width="0.6"/>
<circle cx="213" cy="374.6" r="1.5" fill="#cf1f72" stroke="none" stroke-width="0.6"/>
<circle cx="213" cy="378.6" r="1.5" fill="#cf1f72" stroke="none" stroke-width="0.6"/>
<circle cx="213" cy="393" r="1.5" fill="#cf1f72" stroke="none" stroke-width="0.6"/>
<circle cx="213" cy="397.8" r="1.5" fill="#cf1f72" stroke="none" stroke-width="0.6"/>
<circle cx="213" cy="409" r="1.5" fill="#cf1f72" stroke="none" stroke-width="0.6"/>
<circle cx="213" cy="414.6" r="1.5" fill="#cf1f72" stroke="none" stroke-width="0.6"/>
<circle cx="213" cy="417" r="1.5" fill="#cf1f72" stroke="none" stroke-width="0.6"/>
<circle cx="232.9" cy="297.8" r="1.5" fill="#2f9fd0" stroke="none" stroke-width="0.6"/>
<circle cx="232.9" cy="306.8" r="1.5" fill="#2f9fd0" stroke="none" stroke-width="0.6"/>
<circle cx="232.9" cy="345" r="1.5" fill="#2f9fd0" stroke="none" stroke-width="0.6"/>
<polygon points="232.9,353.7 234.6,356.7 231.2,356.7" fill="none" stroke="#2f9fd0" stroke-width="0.7"/>
<circle cx="232.9" cy="407.4" r="1.5" fill="#2f9fd0" stroke="none" stroke-width="0.6"/>
<circle cx="232.9" cy="410.6" r="1.5" fill="#2f9fd0" stroke="none" stroke-width="0.6"/>
<circle cx="232.9" cy="331.2" r="1.5" fill="#b9c4cc" stroke="none" stroke-width="0.6"/>
<circle cx="232.9" cy="345.8" r="1.5" fill="#cf1f72" stroke="none" stroke-width="0.6"/>
<circle cx="232.9" cy="361" r="1.5" fill="#cf1f72" stroke="none" stroke-width="0.6"/>
<circle cx="232.9" cy="365" r="1.5" fill="#cf1f72" stroke="none" stroke-width="0.6"/>
<circle cx="232.9" cy="369.8" r="1.5" fill="#cf1f72" stroke="none" stroke-width="0.6"/>
<circle cx="232.9" cy="374.6" r="1.5" fill="#cf1f72" stroke="none" stroke-width="0.6"/>
<polygon points="232.9,388.1 234.6,391.1 231.2,391.1" fill="none" stroke="#cf1f72" stroke-width="0.7"/>
<circle cx="232.9" cy="398.6" r="1.5" fill="#cf1f72" stroke="none" stroke-width="0.6"/>
<circle cx="232.9" cy="400.5" r="1.5" fill="#cf1f72" stroke="none" stroke-width="0.6"/>
<circle cx="232.9" cy="402.6" r="1.5" fill="#cf1f72" stroke="none" stroke-width="0.6"/>
<circle cx="252.5" cy="305" r="1.5" fill="#2f9fd0" stroke="none" stroke-width="0.6"/>
<circle cx="252.5" cy="308" r="1.5" fill="#2f9fd0" stroke="none" stroke-width="0.6"/>
<circle cx="252.5" cy="314.7" r="1.5" fill="#2f9fd0" stroke="none" stroke-width="0.6"/>
<circle cx="252.5" cy="316.2" r="1.5" fill="#2f9fd0" stroke="none" stroke-width="0.6"/>
<circle cx="252.5" cy="331.2" r="1.5" fill="#2f9fd0" stroke="none" stroke-width="0.6"/>
<circle cx="252.5" cy="335" r="1.5" fill="#2f9fd0" stroke="none" stroke-width="0.6"/>
<circle cx="252.5" cy="352.2" r="1.35" fill="#fff" stroke="#2f9fd0" stroke-width="0.7"/>
<circle cx="252.5" cy="357.8" r="1.5" fill="#2f9fd0" stroke="none" stroke-width="0.6"/>
<circle cx="252.5" cy="369" r="1.5" fill="#2f9fd0" stroke="none" stroke-width="0.6"/>
<circle cx="252.5" cy="345.2" r="1.5" fill="#cf1f72" stroke="none" stroke-width="0.6"/>
<circle cx="252.5" cy="378.6" r="1.5" fill="#cf1f72" stroke="none" stroke-width="0.6"/>
<circle cx="252.5" cy="388.2" r="1.5" fill="#cf1f72" stroke="none" stroke-width="0.6"/>
<circle cx="252.5" cy="391" r="1.5" fill="#cf1f72" stroke="none" stroke-width="0.6"/>
<circle cx="252.5" cy="393.5" r="1.5" fill="#cf1f72" stroke="none" stroke-width="0.6"/>
<circle cx="252.5" cy="396.2" r="1.5" fill="#cf1f72" stroke="none" stroke-width="0.6"/>
<circle cx="252.5" cy="402.6" r="1.5" fill="#cf1f72" stroke="none" stroke-width="0.6"/>
<circle cx="252.5" cy="406.6" r="1.5" fill="#cf1f72" stroke="none" stroke-width="0.6"/>
<circle cx="252.5" cy="410.6" r="1.5" fill="#cf1f72" stroke="none" stroke-width="0.6"/>
<circle cx="252.5" cy="415.4" r="1.5" fill="#cf1f72" stroke="none" stroke-width="0.6"/>
<path d="M76.3,368.7 C79.6,389.5 82.9,410.3 86.2,410.3 C91.37,410.3 96.53,410.07 101.7,409.6 C107.57,409.07 113.43,388.5 119.3,388.5 C125.87,388.5 132.43,396.5 139,396.5 C145.67,396.5 152.33,383.75 159,371" fill="none" stroke="#36a7d6" stroke-width="1.05" stroke-linecap="round"/>
<path d="M76.3,391.2 C79.6,379.95 82.9,368.7 86.2,368.7 C91.37,368.7 96.53,385.24 101.7,387 C107.57,389 113.43,388.07 119.3,390 C125.87,392.16 132.43,400 139,400 C145.67,400 152.33,395 159,390" fill="none" stroke="#d6267a" stroke-width="1.05" stroke-linecap="round"/>
<path d="M169.8,335 C173.13,366.4 176.47,397.8 179.8,397.8 C185.03,397.8 190.27,389.46 195.5,382.6 C201.33,374.96 207.17,353 213,353 C219.63,353 226.27,358.5 232.9,358.5 C239.43,358.5 245.97,350.25 252.5,342" fill="none" stroke="#36a7d6" stroke-width="1.05" stroke-linecap="round"/>
<path d="M169.8,396.2 C173.13,367.3 176.47,338.4 179.8,338.4 C185.03,338.4 190.27,373.04 195.5,378.6 C201.33,384.8 207.17,387.9 213,387.9 C219.63,387.9 226.27,384.8 232.9,384.8 C239.43,384.8 245.97,390.4 252.5,396" fill="none" stroke="#d6267a" stroke-width="1.05" stroke-linecap="round"/>
<text x="273" y="255.4" font-size="11.2" font-weight="bold" fill="#111" text-anchor="start" textLength="8.4" lengthAdjust="spacingAndGlyphs" stroke="#111" stroke-width="0.55">D</text>
<line x1="300.2" y1="277.5" x2="300.2" y2="427.6" stroke="#2e2e2e" stroke-width="1.3"/>
<line x1="299.7" y1="427.6" x2="474.6" y2="427.6" stroke="#2e2e2e" stroke-width="1.3"/>
<line x1="296.5" y1="323.6" x2="300.2" y2="323.6" stroke="#2e2e2e" stroke-width="0.9"/>
<line x1="296.5" y1="375.2" x2="300.2" y2="375.2" stroke="#2e2e2e" stroke-width="0.9"/>
<line x1="296.5" y1="426.6" x2="300.2" y2="426.6" stroke="#2e2e2e" stroke-width="0.9"/>
<text x="291.6" y="326" font-size="6.6" font-weight="normal" fill="#1e1e1e" text-anchor="middle" stroke="#1e1e1e" stroke-width="0.06">0</text>
<text x="293.4" y="377.6" font-size="6.6" font-weight="normal" fill="#1e1e1e" text-anchor="end" textLength="7.6" lengthAdjust="spacingAndGlyphs" stroke="#1e1e1e" stroke-width="0.06">−5</text>
<text transform="translate(280.3,351.7) rotate(-90)" font-size="8.4" fill="#222" stroke="#222" stroke-width="0.15" text-anchor="middle" textLength="69.4" lengthAdjust="spacingAndGlyphs">T cell to NK cell ratio (ln)</text>
<line x1="314.3" y1="427.6" x2="314.3" y2="430.6" stroke="#2e2e2e" stroke-width="0.9"/>
<line x1="356.6" y1="427.6" x2="356.6" y2="430.6" stroke="#2e2e2e" stroke-width="0.9"/>
<line x1="398.9" y1="427.6" x2="398.9" y2="430.6" stroke="#2e2e2e" stroke-width="0.9"/>
<line x1="441.2" y1="427.6" x2="441.2" y2="430.6" stroke="#2e2e2e" stroke-width="0.9"/>
<text x="299.6" y="439.8" font-size="6.6" font-weight="normal" fill="#1e1e1e" text-anchor="start" textLength="11.6" lengthAdjust="spacingAndGlyphs" stroke="#1e1e1e" stroke-width="0.06">Pre-</text>
<text x="299.6" y="447.9" font-size="6.6" font-weight="normal" fill="#1e1e1e" text-anchor="start" textLength="29.1" lengthAdjust="spacingAndGlyphs" stroke="#1e1e1e" stroke-width="0.06">Transplant</text>
<text x="356.8" y="439.8" font-size="6.6" font-weight="normal" fill="#1e1e1e" text-anchor="middle" textLength="11" lengthAdjust="spacingAndGlyphs" stroke="#1e1e1e" stroke-width="0.06">100</text>
<text x="398.9" y="439.8" font-size="6.6" font-weight="normal" fill="#1e1e1e" text-anchor="middle" textLength="11" lengthAdjust="spacingAndGlyphs" stroke="#1e1e1e" stroke-width="0.06">200</text>
<text x="441.2" y="439.8" font-size="6.6" font-weight="normal" fill="#1e1e1e" text-anchor="middle" textLength="11" lengthAdjust="spacingAndGlyphs" stroke="#1e1e1e" stroke-width="0.06">300</text>
<line x1="322.7" y1="452" x2="451.5" y2="452" stroke="#2a2a2a" stroke-width="1.3"/>
<text x="360" y="464" font-size="9.3" font-weight="bold" fill="#111" text-anchor="start" textLength="55" lengthAdjust="spacingAndGlyphs" stroke="#111" stroke-width="0.12">Days post-transplant</text>
<path d="M308,270.7 L308,272.8 M306.9,271.3 L309.1,272.2 M309.1,271.3 L306.9,272.2" stroke="#1a1a1a" stroke-width="0.9" stroke-linecap="round"/>
<path d="M356.6,270.7 L356.6,272.8 M355.5,271.3 L357.7,272.2 M357.7,271.3 L355.5,272.2" stroke="#1a1a1a" stroke-width="0.9" stroke-linecap="round"/>
<path d="M466.5,270.7 L466.5,272.8 M465.4,271.3 L467.6,272.2 M467.6,271.3 L465.4,272.2" stroke="#1a1a1a" stroke-width="0.9" stroke-linecap="round"/>
<rect x="333" y="472.6" width="5.2" height="5.6" fill="#1e4680"/>
<text x="342" y="477.9" font-size="6.6" font-weight="normal" fill="#1e1e1e" text-anchor="start" textLength="37.2" lengthAdjust="spacingAndGlyphs" stroke="#1e1e1e" stroke-width="0.06">Bone Marrow</text>
<rect x="386.4" y="472.6" width="5" height="5.6" fill="#c41f3c"/>
<text x="394.3" y="477.9" font-size="6.6" font-weight="normal" fill="#1e1e1e" text-anchor="start" textLength="47.5" lengthAdjust="spacingAndGlyphs" stroke="#1e1e1e" stroke-width="0.06">Peripheral Blood</text>
<circle cx="309.2" cy="489" r="1.4" fill="none" stroke="#333" stroke-width="0.7"/>
<text x="313.8" y="491.4" font-size="6.6" font-weight="normal" fill="#1e1e1e" text-anchor="start" textLength="12.7" lengthAdjust="spacingAndGlyphs" stroke="#1e1e1e" stroke-width="0.06">CBT</text>
<polygon points="335,487.4 336.5,490.2 333.5,490.2" fill="none" stroke="#333" stroke-width="0.55"/>
<text x="340" y="491.4" font-size="6.6" font-weight="normal" fill="#1e1e1e" text-anchor="start" textLength="39.8" lengthAdjust="spacingAndGlyphs" stroke="#1e1e1e" stroke-width="0.06">Haploidentical</text>
<rect x="386.4" y="487.9" width="2.2" height="2.2" fill="#111"/>
<text x="392" y="491.4" font-size="6.6" font-weight="normal" fill="#1e1e1e" text-anchor="start" textLength="18" lengthAdjust="spacingAndGlyphs" stroke="#1e1e1e" stroke-width="0.06">PBSC</text>
<circle cx="417.4" cy="489" r="1.4" fill="#111" stroke="none" stroke-width="0.6"/>
<text x="423.2" y="491.4" font-size="6.6" font-weight="normal" fill="#1e1e1e" text-anchor="start" textLength="43.3" lengthAdjust="spacingAndGlyphs" stroke="#1e1e1e" stroke-width="0.06">CD34-selected</text>
<circle cx="308" cy="284.2" r="1.5" fill="#1e3c78" stroke="none" stroke-width="0.6"/>
<circle cx="308" cy="292.6" r="1.5" fill="#c01d3a" stroke="none" stroke-width="0.6"/>
<circle cx="308" cy="294.5" r="1.5" fill="#c01d3a" stroke="none" stroke-width="0.6"/>
<circle cx="308" cy="296.5" r="1.5" fill="#c01d3a" stroke="none" stroke-width="0.6"/>
<circle cx="308" cy="298.5" r="1.5" fill="#c01d3a" stroke="none" stroke-width="0.6"/>
<circle cx="308" cy="300.5" r="1.5" fill="#c01d3a" stroke="none" stroke-width="0.6"/>
<circle cx="308" cy="302.5" r="1.5" fill="#c01d3a" stroke="none" stroke-width="0.6"/>
<circle cx="308" cy="304.5" r="1.5" fill="#c01d3a" stroke="none" stroke-width="0.6"/>
<circle cx="308" cy="306.5" r="1.5" fill="#1d6f7e" stroke="none" stroke-width="0.6"/>
<circle cx="308" cy="308.5" r="1.5" fill="#1d6f7e" stroke="none" stroke-width="0.6"/>
<circle cx="308" cy="310.5" r="1.5" fill="#1d6f7e" stroke="none" stroke-width="0.6"/>
<circle cx="308" cy="312.5" r="1.5" fill="#1d6f7e" stroke="none" stroke-width="0.6"/>
<circle cx="308" cy="314.5" r="1.5" fill="#c01d3a" stroke="none" stroke-width="0.6"/>
<circle cx="308" cy="316.5" r="1.5" fill="#c01d3a" stroke="none" stroke-width="0.6"/>
<circle cx="308" cy="318.5" r="1.5" fill="#c01d3a" stroke="none" stroke-width="0.6"/>
<circle cx="308" cy="320.5" r="1.5" fill="#c01d3a" stroke="none" stroke-width="0.6"/>
<circle cx="308" cy="322.5" r="1.5" fill="#c01d3a" stroke="none" stroke-width="0.6"/>
<circle cx="308" cy="324.5" r="1.5" fill="#1e3c78" stroke="none" stroke-width="0.6"/>
<circle cx="308" cy="326.5" r="1.5" fill="#1d6f7e" stroke="none" stroke-width="0.6"/>
<circle cx="308" cy="328.5" r="1.5" fill="#1d6f7e" stroke="none" stroke-width="0.6"/>
<circle cx="308" cy="330.5" r="1.5" fill="#1d6f7e" stroke="none" stroke-width="0.6"/>
<circle cx="308" cy="332.5" r="1.5" fill="#1d6f7e" stroke="none" stroke-width="0.6"/>
<circle cx="308" cy="334.5" r="1.5" fill="#1d6f7e" stroke="none" stroke-width="0.6"/>
<circle cx="308" cy="336.5" r="1.5" fill="#1e3c78" stroke="none" stroke-width="0.6"/>
<circle cx="308" cy="339.5" r="1.5" fill="#a9b3c3" stroke="none" stroke-width="0.6"/>
<polygon points="327,315.4 328.7,318.4 325.3,318.4" fill="none" stroke="#d9a0b4" stroke-width="0.7"/>
<circle cx="327" cy="324.8" r="1.5" fill="#c01d3a" stroke="none" stroke-width="0.6"/>
<circle cx="327" cy="328.3" r="1.5" fill="#1e3c78" stroke="none" stroke-width="0.6"/>
<circle cx="327" cy="330.5" r="1.5" fill="#c01d3a" stroke="none" stroke-width="0.6"/>
<circle cx="327" cy="333" r="1.5" fill="#1e3c78" stroke="none" stroke-width="0.6"/>
<circle cx="327" cy="335.5" r="1.5" fill="#c01d3a" stroke="none" stroke-width="0.6"/>
<circle cx="327" cy="338" r="1.5" fill="#1d6f7e" stroke="none" stroke-width="0.6"/>
<circle cx="327" cy="341" r="1.5" fill="#1e3c78" stroke="none" stroke-width="0.6"/>
<circle cx="327" cy="343.5" r="1.5" fill="#c01d3a" stroke="none" stroke-width="0.6"/>
<circle cx="327" cy="346.7" r="1.5" fill="#1d6f7e" stroke="none" stroke-width="0.6"/>
<circle cx="327" cy="352.7" r="1.5" fill="#1e3c78" stroke="none" stroke-width="0.6"/>
<circle cx="327" cy="355.2" r="1.5" fill="#1e3c78" stroke="none" stroke-width="0.6"/>
<circle cx="327" cy="360.3" r="1.5" fill="#1e3c78" stroke="none" stroke-width="0.6"/>
<circle cx="327" cy="366.8" r="1.5" fill="#1e3c78" stroke="none" stroke-width="0.6"/>
<circle cx="327" cy="373" r="1.5" fill="#c01d3a" stroke="none" stroke-width="0.6"/>
<circle cx="327" cy="386.7" r="1.5" fill="#1e3c78" stroke="none" stroke-width="0.6"/>
<circle cx="327" cy="403.7" r="1.5" fill="#1d6f7e" stroke="none" stroke-width="0.6"/>
<circle cx="327" cy="405.4" r="1.5" fill="#1d6f7e" stroke="none" stroke-width="0.6"/>
<circle cx="327" cy="409.6" r="1.5" fill="#c01d3a" stroke="none" stroke-width="0.6"/>
<circle cx="327" cy="412.2" r="1.5" fill="#c01d3a" stroke="none" stroke-width="0.6"/>
<circle cx="327" cy="416.4" r="1.5" fill="#c01d3a" stroke="none" stroke-width="0.6"/>
<circle cx="327" cy="420.7" r="1.5" fill="#1d6f7e" stroke="none" stroke-width="0.6"/>
<circle cx="327" cy="427.5" r="1.5" fill="#1e3c78" stroke="none" stroke-width="0.6"/>
<circle cx="356.5" cy="289.6" r="1.5" fill="#c01d3a" stroke="none" stroke-width="0.6"/>
<circle cx="356.5" cy="298.7" r="1.5" fill="#c01d3a" stroke="none" stroke-width="0.6"/>
<circle cx="356.5" cy="308.3" r="1.5" fill="#1e3c78" stroke="none" stroke-width="0.6"/>
<circle cx="356.5" cy="311.2" r="1.5" fill="#1e3c78" stroke="none" stroke-width="0.6"/>
<circle cx="356.5" cy="316" r="1.5" fill="#c01d3a" stroke="none" stroke-width="0.6"/>
<circle cx="356.5" cy="318.5" r="1.5" fill="#c01d3a" stroke="none" stroke-width="0.6"/>
<circle cx="356.5" cy="321" r="1.5" fill="#1e3c78" stroke="none" stroke-width="0.6"/>
<circle cx="356.5" cy="323.5" r="1.5" fill="#c01d3a" stroke="none" stroke-width="0.6"/>
<circle cx="356.5" cy="326" r="1.5" fill="#1e3c78" stroke="none" stroke-width="0.6"/>
<circle cx="356.5" cy="328.5" r="1.5" fill="#c01d3a" stroke="none" stroke-width="0.6"/>
<circle cx="356.5" cy="331" r="1.5" fill="#1d6f7e" stroke="none" stroke-width="0.6"/>
<circle cx="356.5" cy="333.5" r="1.5" fill="#c01d3a" stroke="none" stroke-width="0.6"/>
<circle cx="356.5" cy="336" r="1.5" fill="#1e3c78" stroke="none" stroke-width="0.6"/>
<circle cx="356.5" cy="338.5" r="1.5" fill="#1d6f7e" stroke="none" stroke-width="0.6"/>
<circle cx="356.5" cy="343.6" r="1.5" fill="#1d6f7e" stroke="none" stroke-width="0.6"/>
<circle cx="356.5" cy="349.6" r="1.35" fill="#fff" stroke="#c01d3a" stroke-width="0.7"/>
<circle cx="356.5" cy="352" r="1.5" fill="#1e3c78" stroke="none" stroke-width="0.6"/>
<circle cx="356.5" cy="359.2" r="1.5" fill="#1e3c78" stroke="none" stroke-width="0.6"/>
<circle cx="356.5" cy="374.8" r="1.5" fill="#1e3c78" stroke="none" stroke-width="0.6"/>
<circle cx="356.5" cy="378.4" r="1.5" fill="#1e3c78" stroke="none" stroke-width="0.6"/>
<circle cx="356.5" cy="384.4" r="1.5" fill="#1e3c78" stroke="none" stroke-width="0.6"/>
<circle cx="356.5" cy="394" r="1.5" fill="#c01d3a" stroke="none" stroke-width="0.6"/>
<circle cx="390.4" cy="287.2" r="1.5" fill="#c01d3a" stroke="none" stroke-width="0.6"/>
<circle cx="390.4" cy="293.2" r="1.5" fill="#c01d3a" stroke="none" stroke-width="0.6"/>
<circle cx="390.4" cy="299.7" r="1.5" fill="#c01d3a" stroke="none" stroke-width="0.6"/>
<circle cx="390.4" cy="308.8" r="1.5" fill="#1e3c78" stroke="none" stroke-width="0.6"/>
<circle cx="390.4" cy="311" r="1.5" fill="#1e3c78" stroke="none" stroke-width="0.6"/>
<circle cx="390.4" cy="312.4" r="1.5" fill="#1e3c78" stroke="none" stroke-width="0.6"/>
<circle cx="390.4" cy="316" r="1.5" fill="#c01d3a" stroke="none" stroke-width="0.6"/>
<circle cx="390.4" cy="318.5" r="1.5" fill="#c01d3a" stroke="none" stroke-width="0.6"/>
<circle cx="390.4" cy="320.8" r="1.5" fill="#c01d3a" stroke="none" stroke-width="0.6"/>
<circle cx="390.4" cy="324.4" r="1.35" fill="#fff" stroke="#1e3c78" stroke-width="0.7"/>
<circle cx="390.4" cy="328" r="1.5" fill="#1e3c78" stroke="none" stroke-width="0.6"/>
<circle cx="390.4" cy="330" r="1.5" fill="#1e3c78" stroke="none" stroke-width="0.6"/>
<circle cx="390.4" cy="331.6" r="1.5" fill="#1e3c78" stroke="none" stroke-width="0.6"/>
<circle cx="390.4" cy="334" r="1.35" fill="#fff" stroke="#c01d3a" stroke-width="0.7"/>
<circle cx="390.4" cy="342.4" r="1.5" fill="#1e3c78" stroke="none" stroke-width="0.6"/>
<circle cx="390.4" cy="346" r="1.5" fill="#1e3c78" stroke="none" stroke-width="0.6"/>
<circle cx="390.4" cy="349.6" r="1.5" fill="#1e3c78" stroke="none" stroke-width="0.6"/>
<circle cx="428.7" cy="301.1" r="1.5" fill="#c01d3a" stroke="none" stroke-width="0.6"/>
<circle cx="428.7" cy="308" r="1.5" fill="#c01d3a" stroke="none" stroke-width="0.6"/>
<circle cx="428.7" cy="309.6" r="1.5" fill="#c01d3a" stroke="none" stroke-width="0.6"/>
<circle cx="428.7" cy="311.2" r="1.5" fill="#1e3c78" stroke="none" stroke-width="0.6"/>
<circle cx="428.7" cy="315.2" r="1.5" fill="#c01d3a" stroke="none" stroke-width="0.6"/>
<circle cx="428.7" cy="317.6" r="1.5" fill="#c01d3a" stroke="none" stroke-width="0.6"/>
<circle cx="428.7" cy="322.4" r="1.35" fill="#fff" stroke="#1e3c78" stroke-width="0.7"/>
<circle cx="428.7" cy="324.8" r="1.5" fill="#1e3c78" stroke="none" stroke-width="0.6"/>
<circle cx="428.7" cy="327" r="1.5" fill="#1e3c78" stroke="none" stroke-width="0.6"/>
<circle cx="428.7" cy="329.6" r="1.5" fill="#1e3c78" stroke="none" stroke-width="0.6"/>
<circle cx="428.7" cy="334.4" r="1.5" fill="#1e3c78" stroke="none" stroke-width="0.6"/>
<circle cx="428.7" cy="336.8" r="1.5" fill="#1e3c78" stroke="none" stroke-width="0.6"/>
<circle cx="428.7" cy="339.2" r="1.5" fill="#1e3c78" stroke="none" stroke-width="0.6"/>
<circle cx="466.3" cy="292" r="1.5" fill="#c01d3a" stroke="none" stroke-width="0.6"/>
<circle cx="466.3" cy="295.2" r="1.5" fill="#c01d3a" stroke="none" stroke-width="0.6"/>
<circle cx="466.3" cy="301.6" r="1.5" fill="#1e3c78" stroke="none" stroke-width="0.6"/>
<circle cx="466.3" cy="304.8" r="1.35" fill="#fff" stroke="#1e3c78" stroke-width="0.7"/>
<circle cx="466.3" cy="307.2" r="1.5" fill="#c01d3a" stroke="none" stroke-width="0.6"/>
<circle cx="466.3" cy="310.4" r="1.5" fill="#c01d3a" stroke="none" stroke-width="0.6"/>
<circle cx="466.3" cy="313.6" r="1.5" fill="#c01d3a" stroke="none" stroke-width="0.6"/>
<circle cx="466.3" cy="316" r="1.5" fill="#c01d3a" stroke="none" stroke-width="0.6"/>
<circle cx="466.3" cy="318.4" r="1.5" fill="#c01d3a" stroke="none" stroke-width="0.6"/>
<circle cx="466.3" cy="321.6" r="1.5" fill="#c01d3a" stroke="none" stroke-width="0.6"/>
<circle cx="466.3" cy="325.6" r="1.5" fill="#1e3c78" stroke="none" stroke-width="0.6"/>
<circle cx="466.3" cy="327.2" r="1.5" fill="#1e3c78" stroke="none" stroke-width="0.6"/>
<circle cx="466.3" cy="334.4" r="1.5" fill="#1e3c78" stroke="none" stroke-width="0.6"/>
<circle cx="466.3" cy="349.6" r="1.35" fill="#fff" stroke="#1e3c78" stroke-width="0.7"/>
<path d="M308,308.7 C314.33,330.1 320.67,351.5 327,351.5 C336.83,351.5 346.67,337.13 356.5,331.5 C367.8,325.03 379.1,316.2 390.4,316.2 C403.17,316.2 415.93,319.2 428.7,319.2 C441.23,319.2 453.77,315.35 466.3,311.5" fill="none" stroke="#c41f3c" stroke-width="1.05" stroke-linecap="round"/>
<path d="M308,317.1 C314.33,338.35 320.67,359.6 327,359.6 C336.83,359.6 346.67,348.98 356.5,343.7 C367.8,337.64 379.1,325.6 390.4,325.6 C403.17,325.6 415.93,326.2 428.7,326.2 C441.23,326.2 453.77,322.75 466.3,319.3" fill="none" stroke="#1e4680" stroke-width="1.05" stroke-linecap="round"/>
<rect x="0.5" y="0.5" width="519" height="499" fill="none" stroke="#5a5a5a" stroke-width="1.2"/>
</svg></div></body></html>
